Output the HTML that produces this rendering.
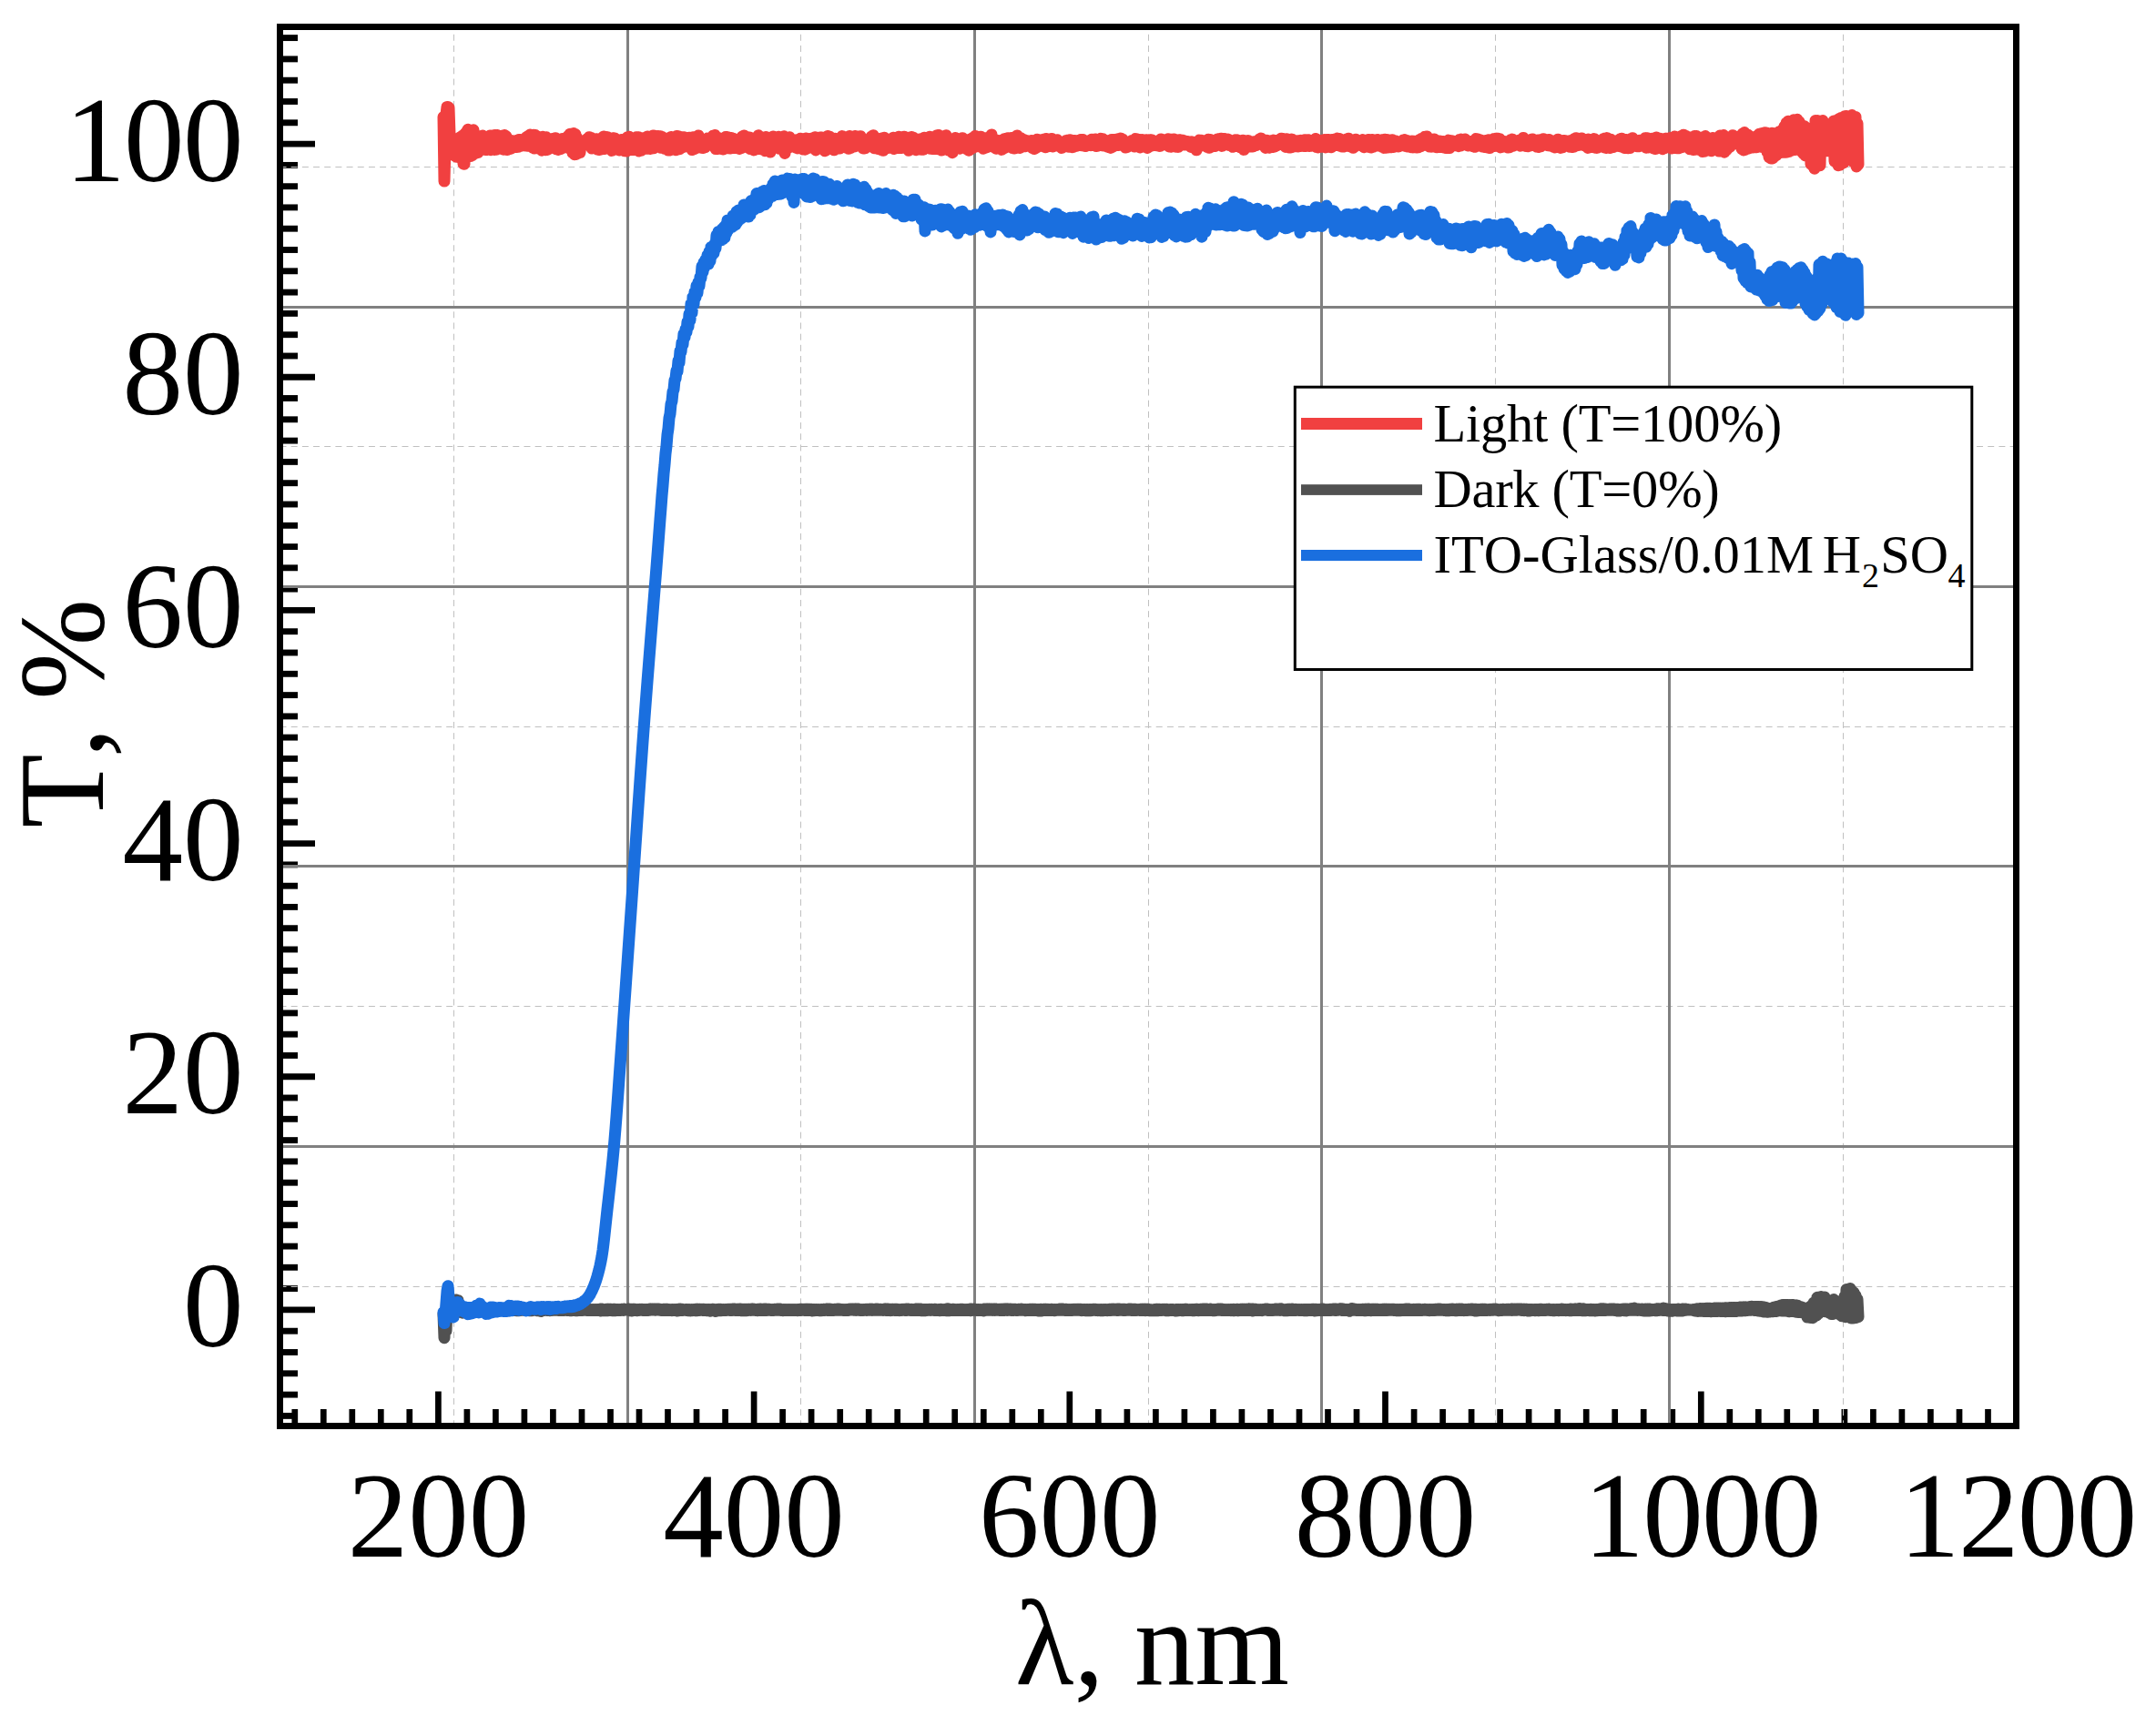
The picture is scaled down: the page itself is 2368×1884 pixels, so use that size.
<!DOCTYPE html>
<html lang="en"><head><meta charset="utf-8"><title>Transmittance spectra</title>
<style>html,body{margin:0;padding:0;background:#fff}body{width:2368px;height:1884px;overflow:hidden}svg{display:block}text{font-family:"Liberation Serif","Times New Roman",serif;fill:#000;font-kerning:none}</style></head><body>
<svg width="2368" height="1884" viewBox="0 0 2368 1884">
<rect width="2368" height="1884" fill="#fff"/>
<g stroke="#000" stroke-width="6.7" fill="none">
<path stroke-width="6.9" d="M310.0 41.6H327.0"/>
<path stroke-width="6.9" d="M310.0 64.9H327.0"/>
<path stroke-width="6.9" d="M310.0 88.2H327.0"/>
<path stroke-width="6.9" d="M310.0 111.5H327.0"/>
<path stroke-width="6.9" d="M310.0 134.8H327.0"/>
<path stroke-width="6.9" d="M310.0 158.1H346.0"/>
<path stroke-width="6.9" d="M310.0 181.4H327.0"/>
<path stroke-width="6.9" d="M310.0 204.7H327.0"/>
<path stroke-width="6.9" d="M310.0 227.9H327.0"/>
<path stroke-width="6.9" d="M310.0 251.2H327.0"/>
<path stroke-width="6.9" d="M310.0 274.5H327.0"/>
<path stroke-width="6.9" d="M310.0 297.8H327.0"/>
<path stroke-width="6.9" d="M310.0 321.1H327.0"/>
<path stroke-width="6.9" d="M310.0 344.4H327.0"/>
<path stroke-width="6.9" d="M310.0 367.7H327.0"/>
<path stroke-width="6.9" d="M310.0 391.0H327.0"/>
<path stroke-width="6.9" d="M310.0 414.2H346.0"/>
<path stroke-width="6.9" d="M310.0 437.5H327.0"/>
<path stroke-width="6.9" d="M310.0 460.8H327.0"/>
<path stroke-width="6.9" d="M310.0 484.1H327.0"/>
<path stroke-width="6.9" d="M310.0 507.4H327.0"/>
<path stroke-width="6.9" d="M310.0 530.7H327.0"/>
<path stroke-width="6.9" d="M310.0 554.0H327.0"/>
<path stroke-width="6.9" d="M310.0 577.3H327.0"/>
<path stroke-width="6.9" d="M310.0 600.6H327.0"/>
<path stroke-width="6.9" d="M310.0 623.8H327.0"/>
<path stroke-width="6.9" d="M310.0 647.1H327.0"/>
<path stroke-width="6.9" d="M310.0 670.4H346.0"/>
<path stroke-width="6.9" d="M310.0 693.7H327.0"/>
<path stroke-width="6.9" d="M310.0 717.0H327.0"/>
<path stroke-width="6.9" d="M310.0 740.3H327.0"/>
<path stroke-width="6.9" d="M310.0 763.6H327.0"/>
<path stroke-width="6.9" d="M310.0 786.9H327.0"/>
<path stroke-width="6.9" d="M310.0 810.1H327.0"/>
<path stroke-width="6.9" d="M310.0 833.4H327.0"/>
<path stroke-width="6.9" d="M310.0 856.7H327.0"/>
<path stroke-width="6.9" d="M310.0 880.0H327.0"/>
<path stroke-width="6.9" d="M310.0 903.3H327.0"/>
<path stroke-width="6.9" d="M310.0 926.6H346.0"/>
<path stroke-width="6.9" d="M310.0 949.9H327.0"/>
<path stroke-width="6.9" d="M310.0 973.2H327.0"/>
<path stroke-width="6.9" d="M310.0 996.4H327.0"/>
<path stroke-width="6.9" d="M310.0 1019.7H327.0"/>
<path stroke-width="6.9" d="M310.0 1043.0H327.0"/>
<path stroke-width="6.9" d="M310.0 1066.3H327.0"/>
<path stroke-width="6.9" d="M310.0 1089.6H327.0"/>
<path stroke-width="6.9" d="M310.0 1112.9H327.0"/>
<path stroke-width="6.9" d="M310.0 1136.2H327.0"/>
<path stroke-width="6.9" d="M310.0 1159.5H327.0"/>
<path stroke-width="6.9" d="M310.0 1182.8H346.0"/>
<path stroke-width="6.9" d="M310.0 1206.0H327.0"/>
<path stroke-width="6.9" d="M310.0 1229.3H327.0"/>
<path stroke-width="6.9" d="M310.0 1252.6H327.0"/>
<path stroke-width="6.9" d="M310.0 1275.9H327.0"/>
<path stroke-width="6.9" d="M310.0 1299.2H327.0"/>
<path stroke-width="6.9" d="M310.0 1322.5H327.0"/>
<path stroke-width="6.9" d="M310.0 1345.8H327.0"/>
<path stroke-width="6.9" d="M310.0 1369.1H327.0"/>
<path stroke-width="6.9" d="M310.0 1392.3H327.0"/>
<path stroke-width="6.9" d="M310.0 1415.6H327.0"/>
<path stroke-width="6.9" d="M310.0 1438.9H346.0"/>
<path stroke-width="6.9" d="M310.0 1462.2H327.0"/>
<path stroke-width="6.9" d="M310.0 1485.5H327.0"/>
<path stroke-width="6.9" d="M310.0 1508.8H327.0"/>
<path stroke-width="6.9" d="M310.0 1532.1H327.0"/>
<path stroke-width="6.9" d="M310.0 1555.4H327.0"/>
<path d="M323.8 1564.0V1548.0"/>
<path d="M355.3 1564.0V1548.0"/>
<path d="M386.8 1564.0V1548.0"/>
<path d="M418.3 1564.0V1548.0"/>
<path d="M449.8 1564.0V1548.0"/>
<path d="M481.4 1564.0V1528.5"/>
<path d="M512.9 1564.0V1548.0"/>
<path d="M544.4 1564.0V1548.0"/>
<path d="M575.9 1564.0V1548.0"/>
<path d="M607.4 1564.0V1548.0"/>
<path d="M639.0 1564.0V1548.0"/>
<path d="M670.5 1564.0V1548.0"/>
<path d="M702.0 1564.0V1548.0"/>
<path d="M733.5 1564.0V1548.0"/>
<path d="M765.0 1564.0V1548.0"/>
<path d="M796.6 1564.0V1548.0"/>
<path d="M828.1 1564.0V1528.5"/>
<path d="M859.6 1564.0V1548.0"/>
<path d="M891.1 1564.0V1548.0"/>
<path d="M922.7 1564.0V1548.0"/>
<path d="M954.2 1564.0V1548.0"/>
<path d="M985.7 1564.0V1548.0"/>
<path d="M1017.2 1564.0V1548.0"/>
<path d="M1048.7 1564.0V1548.0"/>
<path d="M1080.3 1564.0V1548.0"/>
<path d="M1111.8 1564.0V1548.0"/>
<path d="M1143.3 1564.0V1548.0"/>
<path d="M1174.8 1564.0V1528.5"/>
<path d="M1206.3 1564.0V1548.0"/>
<path d="M1237.9 1564.0V1548.0"/>
<path d="M1269.4 1564.0V1548.0"/>
<path d="M1300.9 1564.0V1548.0"/>
<path d="M1332.4 1564.0V1548.0"/>
<path d="M1363.9 1564.0V1548.0"/>
<path d="M1395.5 1564.0V1548.0"/>
<path d="M1427.0 1564.0V1548.0"/>
<path d="M1458.5 1564.0V1548.0"/>
<path d="M1490.0 1564.0V1548.0"/>
<path d="M1521.5 1564.0V1528.5"/>
<path d="M1553.1 1564.0V1548.0"/>
<path d="M1584.6 1564.0V1548.0"/>
<path d="M1616.1 1564.0V1548.0"/>
<path d="M1647.6 1564.0V1548.0"/>
<path d="M1679.1 1564.0V1548.0"/>
<path d="M1710.7 1564.0V1548.0"/>
<path d="M1742.2 1564.0V1548.0"/>
<path d="M1773.7 1564.0V1548.0"/>
<path d="M1805.2 1564.0V1548.0"/>
<path d="M1836.8 1564.0V1548.0"/>
<path d="M1868.3 1564.0V1528.5"/>
<path d="M1899.8 1564.0V1548.0"/>
<path d="M1931.3 1564.0V1548.0"/>
<path d="M1962.8 1564.0V1548.0"/>
<path d="M1994.4 1564.0V1548.0"/>
<path d="M2025.9 1564.0V1548.0"/>
<path d="M2057.4 1564.0V1548.0"/>
<path d="M2088.9 1564.0V1548.0"/>
<path d="M2120.4 1564.0V1548.0"/>
<path d="M2152.0 1564.0V1548.0"/>
<path d="M2183.5 1564.0V1548.0"/>
</g>
<g stroke="#c0c0c0" stroke-width="1" stroke-dasharray="7 5.18" fill="none">
<path d="M498.5 1567.3V33.0"/>
<path d="M879.5 1567.3V33.0"/>
<path d="M1261.5 1567.3V33.0"/>
<path d="M1642.5 1567.3V33.0"/>
<path d="M2024.5 1567.3V33.0"/>
<path d="M307.5 183.5H2211.0"/>
<path d="M307.5 490.5H2211.0"/>
<path d="M307.5 798.5H2211.0"/>
<path d="M307.5 1105.5H2211.0"/>
<path d="M307.5 1413.5H2211.0"/>
</g>
<g stroke="#808080" stroke-width="3" fill="none">
<path d="M689.5 33.0V1563.0"/>
<path d="M1070.5 33.0V1563.0"/>
<path d="M1451.5 33.0V1563.0"/>
<path d="M1833.5 33.0V1563.0"/>
<path d="M311.0 337.5H2211.0"/>
<path d="M311.0 644.5H2211.0"/>
<path d="M311.0 951.5H2211.0"/>
<path d="M311.0 1259.5H2211.0"/>
</g>
<g fill="none" stroke-width="13" stroke-linejoin="round" stroke-linecap="round">
<path stroke="#515151" d="M487.0 1444.0L488.0 1469.7L489.0 1441.5L490.0 1462.0L491.0 1435.1L492.0 1446.6L493.0 1435.2L494.0 1440.9L495.0 1435.6L496.0 1442.7L497.0 1437.3L498.0 1442.8L499.0 1437.8L500.0 1435.1L501.0 1428.0L502.0 1437.6L503.0 1428.7L504.0 1438.9L505.0 1433.8L506.0 1441.5L507.0 1436.7L508.0 1442.2L509.0 1436.9L510.0 1441.1L511.0 1436.9L512.0 1440.4L513.0 1436.6L514.0 1440.0L515.0 1436.6L516.0 1439.7L517.0 1436.4L518.0 1440.0L519.0 1436.9L520.0 1439.9L521.0 1436.0L522.0 1440.2L523.0 1437.1L524.0 1440.1L525.0 1437.7L526.0 1439.8L527.0 1438.1L528.0 1439.7L529.0 1438.0L530.0 1439.3L531.0 1437.8L532.0 1439.4L533.0 1438.0L534.0 1439.5L535.0 1438.2L536.0 1439.6L537.0 1438.3L538.0 1439.4L539.0 1438.2L540.0 1439.3L541.0 1438.4L542.0 1439.3L543.0 1438.4L544.0 1439.3L545.0 1438.3L546.0 1439.5L547.0 1438.2L548.0 1439.7L549.0 1438.4L550.0 1439.7L551.0 1438.6L552.0 1439.5L553.0 1438.5L554.0 1439.4L555.0 1438.4L556.0 1439.5L557.0 1438.4L558.0 1439.7L559.0 1438.4L560.0 1439.7L561.0 1438.2L562.0 1439.6L563.0 1438.1L564.0 1439.4L565.0 1438.4L566.0 1439.5L567.0 1438.3L568.0 1439.8L569.0 1438.3L570.0 1439.7L571.0 1438.4L572.0 1439.4L573.0 1438.2L574.0 1439.3L575.0 1438.3L576.0 1439.3L577.0 1438.3L578.0 1439.3L579.0 1438.1L580.0 1439.5L581.0 1438.3L582.0 1439.8L583.0 1438.5L584.0 1439.8L585.0 1438.5L586.0 1439.2L587.0 1438.4L588.0 1439.1L589.0 1438.4L590.0 1439.7L591.0 1438.2L592.0 1439.7L593.0 1438.2L594.0 1440.5L595.0 1438.6L596.0 1439.5L597.0 1438.4L598.0 1439.5L599.0 1438.2L600.0 1439.4L601.0 1438.5L602.0 1439.5L603.0 1438.6L604.0 1439.7L605.0 1438.4L606.0 1439.6L607.0 1437.9L608.0 1439.3L609.0 1437.9L610.0 1439.3L611.0 1438.0L612.0 1439.3L613.0 1438.2L614.0 1439.6L615.0 1437.7L616.0 1439.6L617.0 1438.1L618.0 1439.4L619.0 1437.9L620.0 1439.4L621.0 1438.1L622.0 1439.4L623.0 1438.4L624.0 1439.5L625.0 1438.6L626.0 1439.7L627.0 1438.7L628.0 1439.8L629.0 1438.5L630.0 1439.6L631.0 1438.2L632.0 1439.7L633.0 1438.1L634.0 1439.7L635.0 1438.1L636.0 1439.6L637.0 1438.1L638.0 1439.5L639.0 1438.1L640.0 1439.4L641.0 1438.1L642.0 1439.3L643.0 1438.1L644.0 1439.4L645.0 1438.2L646.0 1439.5L647.0 1438.4L648.0 1439.5L649.0 1438.4L650.0 1439.4L651.0 1438.5L652.0 1439.5L653.0 1438.5L654.0 1439.6L655.0 1438.5L656.0 1439.5L657.0 1438.4L658.0 1439.4L659.0 1438.1L660.0 1440.0L661.0 1438.1L662.0 1439.7L663.0 1438.5L664.0 1439.8L665.0 1438.7L666.0 1439.8L667.0 1438.2L668.0 1439.7L669.0 1438.2L670.0 1439.6L671.0 1438.3L672.0 1439.7L673.0 1438.5L674.0 1439.8L675.0 1438.2L676.0 1439.8L677.0 1438.4L678.0 1439.6L679.0 1438.5L680.0 1439.5L681.0 1438.4L682.0 1439.4L683.0 1438.2L684.0 1439.4L685.0 1438.1L686.0 1439.2L687.0 1438.2L688.0 1439.1L689.0 1438.2L690.0 1439.2L691.0 1438.1L692.0 1439.8L693.0 1438.2L694.0 1439.9L695.0 1438.2L696.0 1439.6L697.0 1438.2L698.0 1439.6L699.0 1438.4L700.0 1439.7L701.0 1438.5L702.0 1439.4L703.0 1438.5L704.0 1439.3L705.0 1438.3L706.0 1439.4L707.0 1438.4L708.0 1439.4L709.0 1438.6L710.0 1439.6L711.0 1438.6L712.0 1439.5L713.0 1438.2L714.0 1439.2L715.0 1438.1L716.0 1439.1L717.0 1437.9L718.0 1439.1L719.0 1437.9L720.0 1439.2L721.0 1438.1L722.0 1439.1L723.0 1437.9L724.0 1439.2L725.0 1438.5L726.0 1439.4L727.0 1438.4L728.0 1439.5L729.0 1438.3L730.0 1439.5L731.0 1438.2L732.0 1439.5L733.0 1438.3L734.0 1439.6L735.0 1438.5L736.0 1439.6L737.0 1438.7L738.0 1439.7L739.0 1438.5L740.0 1439.6L741.0 1438.5L742.0 1439.6L743.0 1438.5L744.0 1440.1L745.0 1438.2L746.0 1439.7L747.0 1438.1L748.0 1439.6L749.0 1438.3L750.0 1439.4L751.0 1438.4L752.0 1439.3L753.0 1438.4L754.0 1439.6L755.0 1438.4L756.0 1439.7L757.0 1438.6L758.0 1439.9L759.0 1438.6L760.0 1439.8L761.0 1438.6L762.0 1439.5L763.0 1438.4L764.0 1439.7L765.0 1438.2L766.0 1439.7L767.0 1438.2L768.0 1439.5L769.0 1438.3L770.0 1439.3L771.0 1438.3L772.0 1439.5L773.0 1438.3L774.0 1439.5L775.0 1438.5L776.0 1439.4L777.0 1438.6L778.0 1439.7L779.0 1438.6L780.0 1440.2L781.0 1438.4L782.0 1439.6L783.0 1438.3L784.0 1439.4L785.0 1438.6L786.0 1440.5L787.0 1438.5L788.0 1439.8L789.0 1438.3L790.0 1439.7L791.0 1438.3L792.0 1439.7L793.0 1438.5L794.0 1439.6L795.0 1438.4L796.0 1439.5L797.0 1438.4L798.0 1439.2L799.0 1438.4L800.0 1439.3L801.0 1438.2L802.0 1439.5L803.0 1438.2L804.0 1439.5L805.0 1438.1L806.0 1439.2L807.0 1438.1L808.0 1439.5L809.0 1438.2L810.0 1439.6L811.0 1438.3L812.0 1439.6L813.0 1438.1L814.0 1439.7L815.0 1438.2L816.0 1439.7L817.0 1438.3L818.0 1439.7L819.0 1438.3L820.0 1439.7L821.0 1438.3L822.0 1439.4L823.0 1438.2L824.0 1439.4L825.0 1438.1L826.0 1439.2L827.0 1438.0L828.0 1439.3L829.0 1438.3L830.0 1439.5L831.0 1438.6L832.0 1439.7L833.0 1438.2L834.0 1439.5L835.0 1438.1L836.0 1439.4L837.0 1438.2L838.0 1439.5L839.0 1438.1L840.0 1439.6L841.0 1438.1L842.0 1439.5L843.0 1438.2L844.0 1439.3L845.0 1438.2L846.0 1439.4L847.0 1438.4L848.0 1439.5L849.0 1438.4L850.0 1439.4L851.0 1438.2L852.0 1439.3L853.0 1438.1L854.0 1439.2L855.0 1438.1L856.0 1439.2L857.0 1438.1L858.0 1439.5L859.0 1438.6L860.0 1439.7L861.0 1438.7L862.0 1439.6L863.0 1438.6L864.0 1439.5L865.0 1438.6L866.0 1439.5L867.0 1438.5L868.0 1439.4L869.0 1438.4L870.0 1439.5L871.0 1438.5L872.0 1439.6L873.0 1438.6L874.0 1439.6L875.0 1438.7L876.0 1439.7L877.0 1438.5L878.0 1439.6L879.0 1438.3L880.0 1439.4L881.0 1438.3L882.0 1439.3L883.0 1438.3L884.0 1439.6L885.0 1438.3L886.0 1439.6L887.0 1438.2L888.0 1439.5L889.0 1438.3L890.0 1439.4L891.0 1438.3L892.0 1439.9L893.0 1438.5L894.0 1439.8L895.0 1438.5L896.0 1439.4L897.0 1438.5L898.0 1439.5L899.0 1438.6L900.0 1439.8L901.0 1438.6L902.0 1439.8L903.0 1438.5L904.0 1439.5L905.0 1438.3L906.0 1439.4L907.0 1438.2L908.0 1439.4L909.0 1438.0L910.0 1439.5L911.0 1438.1L912.0 1439.5L913.0 1438.3L914.0 1439.5L915.0 1438.4L916.0 1439.4L917.0 1438.3L918.0 1439.3L919.0 1438.1L920.0 1439.2L921.0 1438.0L922.0 1439.2L923.0 1438.2L924.0 1439.3L925.0 1438.4L926.0 1439.4L927.0 1438.4L928.0 1439.4L929.0 1438.5L930.0 1439.5L931.0 1438.4L932.0 1439.2L933.0 1438.3L934.0 1439.1L935.0 1437.9L936.0 1439.1L937.0 1437.9L938.0 1439.2L939.0 1438.1L940.0 1439.4L941.0 1437.9L942.0 1439.2L943.0 1438.1L944.0 1439.4L945.0 1438.4L946.0 1439.5L947.0 1438.4L948.0 1439.6L949.0 1438.4L950.0 1439.3L951.0 1438.3L952.0 1439.4L953.0 1438.3L954.0 1439.3L955.0 1438.1L956.0 1439.1L957.0 1438.3L958.0 1439.2L959.0 1438.4L960.0 1439.2L961.0 1438.2L962.0 1439.2L963.0 1438.1L964.0 1439.3L965.0 1438.3L966.0 1439.2L967.0 1438.3L968.0 1439.3L969.0 1438.4L970.0 1439.4L971.0 1438.1L972.0 1439.3L973.0 1438.0L974.0 1439.6L975.0 1438.0L976.0 1439.6L977.0 1438.2L978.0 1439.7L979.0 1438.3L980.0 1439.4L981.0 1438.2L982.0 1439.4L983.0 1438.2L984.0 1439.6L985.0 1438.2L986.0 1439.6L987.0 1438.5L988.0 1439.4L989.0 1438.6L990.0 1439.3L991.0 1438.5L992.0 1439.3L993.0 1438.3L994.0 1439.4L995.0 1438.1L996.0 1439.4L997.0 1438.1L998.0 1439.3L999.0 1438.5L1000.0 1439.3L1001.0 1438.5L1002.0 1439.3L1003.0 1438.4L1004.0 1439.5L1005.0 1438.3L1006.0 1439.4L1007.0 1438.0L1008.0 1439.6L1009.0 1438.0L1010.0 1439.5L1011.0 1438.0L1012.0 1439.7L1013.0 1438.5L1014.0 1439.7L1015.0 1438.5L1016.0 1439.7L1017.0 1438.4L1018.0 1439.6L1019.0 1438.4L1020.0 1439.3L1021.0 1438.4L1022.0 1439.2L1023.0 1438.4L1024.0 1439.3L1025.0 1438.4L1026.0 1439.5L1027.0 1438.2L1028.0 1439.5L1029.0 1438.5L1030.0 1439.6L1031.0 1438.5L1032.0 1439.7L1033.0 1438.3L1034.0 1439.5L1035.0 1438.5L1036.0 1439.4L1037.0 1438.4L1038.0 1439.6L1039.0 1438.3L1040.0 1439.8L1041.0 1437.7L1042.0 1439.8L1043.0 1438.3L1044.0 1439.6L1045.0 1438.5L1046.0 1439.6L1047.0 1438.2L1048.0 1439.4L1049.0 1438.4L1050.0 1439.4L1051.0 1438.6L1052.0 1439.3L1053.0 1438.6L1054.0 1439.4L1055.0 1438.3L1056.0 1439.5L1057.0 1438.3L1058.0 1439.6L1059.0 1438.6L1060.0 1439.5L1061.0 1438.6L1062.0 1439.3L1063.0 1438.6L1064.0 1439.4L1065.0 1438.1L1066.0 1439.7L1067.0 1438.1L1068.0 1439.4L1069.0 1438.1L1070.0 1439.2L1071.0 1438.2L1072.0 1439.4L1073.0 1438.4L1074.0 1439.6L1075.0 1438.4L1076.0 1439.5L1077.0 1438.6L1078.0 1439.5L1079.0 1438.5L1080.0 1439.9L1081.0 1438.1L1082.0 1439.5L1083.0 1438.0L1084.0 1439.2L1085.0 1437.9L1086.0 1439.2L1087.0 1438.0L1088.0 1439.3L1089.0 1438.1L1090.0 1439.4L1091.0 1438.2L1092.0 1439.4L1093.0 1438.0L1094.0 1439.2L1095.0 1438.2L1096.0 1439.3L1097.0 1438.3L1098.0 1439.5L1099.0 1438.2L1100.0 1439.6L1101.0 1438.2L1102.0 1439.6L1103.0 1438.1L1104.0 1439.3L1105.0 1438.0L1106.0 1439.4L1107.0 1438.0L1108.0 1439.3L1109.0 1438.1L1110.0 1439.4L1111.0 1438.2L1112.0 1439.6L1113.0 1438.3L1114.0 1439.2L1115.0 1438.3L1116.0 1439.4L1117.0 1438.4L1118.0 1439.4L1119.0 1438.2L1120.0 1439.3L1121.0 1438.1L1122.0 1439.3L1123.0 1438.2L1124.0 1439.3L1125.0 1438.5L1126.0 1439.7L1127.0 1438.6L1128.0 1439.5L1129.0 1438.4L1130.0 1439.4L1131.0 1438.3L1132.0 1439.6L1133.0 1438.3L1134.0 1439.5L1135.0 1438.3L1136.0 1439.4L1137.0 1438.2L1138.0 1439.6L1139.0 1438.4L1140.0 1439.9L1141.0 1438.5L1142.0 1439.9L1143.0 1438.3L1144.0 1439.9L1145.0 1438.4L1146.0 1439.6L1147.0 1438.2L1148.0 1439.5L1149.0 1438.3L1150.0 1439.4L1151.0 1438.5L1152.0 1439.3L1153.0 1438.4L1154.0 1439.4L1155.0 1438.3L1156.0 1439.6L1157.0 1438.5L1158.0 1439.7L1159.0 1438.5L1160.0 1439.5L1161.0 1438.4L1162.0 1439.3L1163.0 1438.1L1164.0 1439.2L1165.0 1438.1L1166.0 1439.3L1167.0 1438.0L1168.0 1439.3L1169.0 1438.2L1170.0 1439.5L1171.0 1438.3L1172.0 1439.6L1173.0 1438.5L1174.0 1439.5L1175.0 1438.4L1176.0 1439.5L1177.0 1438.4L1178.0 1439.2L1179.0 1438.4L1180.0 1439.2L1181.0 1438.2L1182.0 1439.2L1183.0 1438.3L1184.0 1439.3L1185.0 1438.2L1186.0 1439.4L1187.0 1438.2L1188.0 1439.7L1189.0 1438.4L1190.0 1439.4L1191.0 1438.5L1192.0 1439.4L1193.0 1438.6L1194.0 1439.7L1195.0 1438.6L1196.0 1439.8L1197.0 1438.6L1198.0 1439.8L1199.0 1438.5L1200.0 1439.4L1201.0 1438.2L1202.0 1439.3L1203.0 1438.2L1204.0 1439.6L1205.0 1438.6L1206.0 1439.5L1207.0 1438.7L1208.0 1439.5L1209.0 1438.6L1210.0 1439.7L1211.0 1438.7L1212.0 1439.7L1213.0 1438.6L1214.0 1439.4L1215.0 1438.6L1216.0 1439.4L1217.0 1438.5L1218.0 1439.6L1219.0 1438.3L1220.0 1439.5L1221.0 1438.3L1222.0 1439.2L1223.0 1438.3L1224.0 1439.1L1225.0 1438.2L1226.0 1439.4L1227.0 1438.1L1228.0 1439.5L1229.0 1438.1L1230.0 1439.3L1231.0 1438.2L1232.0 1439.3L1233.0 1438.2L1234.0 1439.6L1235.0 1438.3L1236.0 1439.6L1237.0 1438.4L1238.0 1439.3L1239.0 1438.3L1240.0 1439.2L1241.0 1438.1L1242.0 1439.4L1243.0 1438.2L1244.0 1439.6L1245.0 1438.2L1246.0 1439.4L1247.0 1438.2L1248.0 1439.4L1249.0 1438.4L1250.0 1439.3L1251.0 1438.4L1252.0 1439.6L1253.0 1438.3L1254.0 1439.6L1255.0 1438.3L1256.0 1439.6L1257.0 1438.2L1258.0 1439.7L1259.0 1438.2L1260.0 1439.6L1261.0 1438.3L1262.0 1439.7L1263.0 1438.4L1264.0 1439.8L1265.0 1438.7L1266.0 1439.8L1267.0 1438.7L1268.0 1439.8L1269.0 1438.4L1270.0 1439.8L1271.0 1438.2L1272.0 1439.8L1273.0 1438.3L1274.0 1439.6L1275.0 1438.4L1276.0 1439.3L1277.0 1438.5L1278.0 1439.3L1279.0 1438.3L1280.0 1439.7L1281.0 1438.3L1282.0 1439.8L1283.0 1438.7L1284.0 1439.5L1285.0 1438.7L1286.0 1439.4L1287.0 1438.7L1288.0 1439.4L1289.0 1438.7L1290.0 1439.9L1291.0 1438.7L1292.0 1439.9L1293.0 1438.5L1294.0 1439.8L1295.0 1438.4L1296.0 1439.6L1297.0 1438.6L1298.0 1439.7L1299.0 1438.4L1300.0 1439.7L1301.0 1438.3L1302.0 1439.6L1303.0 1438.3L1304.0 1439.4L1305.0 1438.4L1306.0 1439.5L1307.0 1438.5L1308.0 1439.6L1309.0 1438.5L1310.0 1439.8L1311.0 1438.4L1312.0 1439.7L1313.0 1438.3L1314.0 1439.5L1315.0 1438.3L1316.0 1439.7L1317.0 1438.4L1318.0 1439.6L1319.0 1438.2L1320.0 1439.4L1321.0 1438.1L1322.0 1439.5L1323.0 1438.1L1324.0 1439.5L1325.0 1438.1L1326.0 1439.4L1327.0 1438.4L1328.0 1439.4L1329.0 1438.1L1330.0 1439.6L1331.0 1438.5L1332.0 1439.7L1333.0 1438.6L1334.0 1439.8L1335.0 1438.6L1336.0 1439.5L1337.0 1438.3L1338.0 1439.2L1339.0 1438.1L1340.0 1439.3L1341.0 1438.1L1342.0 1439.5L1343.0 1438.3L1344.0 1439.6L1345.0 1438.5L1346.0 1439.5L1347.0 1438.5L1348.0 1439.5L1349.0 1438.6L1350.0 1439.6L1351.0 1438.7L1352.0 1439.5L1353.0 1438.7L1354.0 1439.5L1355.0 1438.6L1356.0 1439.4L1357.0 1438.5L1358.0 1439.5L1359.0 1438.3L1360.0 1439.8L1361.0 1438.4L1362.0 1439.6L1363.0 1438.3L1364.0 1439.5L1365.0 1438.2L1366.0 1439.6L1367.0 1438.3L1368.0 1439.5L1369.0 1438.3L1370.0 1439.5L1371.0 1438.0L1372.0 1439.6L1373.0 1437.9L1374.0 1439.6L1375.0 1438.1L1376.0 1440.0L1377.0 1438.2L1378.0 1439.6L1379.0 1438.3L1380.0 1439.6L1381.0 1438.4L1382.0 1439.6L1383.0 1438.7L1384.0 1439.6L1385.0 1438.7L1386.0 1439.5L1387.0 1438.6L1388.0 1439.2L1389.0 1438.2L1390.0 1439.1L1391.0 1438.0L1392.0 1439.4L1393.0 1438.2L1394.0 1439.5L1395.0 1438.4L1396.0 1439.4L1397.0 1438.5L1398.0 1439.6L1399.0 1438.4L1400.0 1439.3L1401.0 1438.0L1402.0 1439.2L1403.0 1438.3L1404.0 1439.1L1405.0 1437.9L1406.0 1439.4L1407.0 1437.8L1408.0 1439.3L1409.0 1438.6L1410.0 1439.7L1411.0 1438.7L1412.0 1439.7L1413.0 1438.5L1414.0 1439.7L1415.0 1438.2L1416.0 1439.5L1417.0 1438.2L1418.0 1439.4L1419.0 1438.1L1420.0 1439.4L1421.0 1438.5L1422.0 1439.3L1423.0 1438.5L1424.0 1439.3L1425.0 1438.6L1426.0 1439.3L1427.0 1438.4L1428.0 1439.4L1429.0 1438.5L1430.0 1439.5L1431.0 1438.7L1432.0 1439.7L1433.0 1438.5L1434.0 1439.7L1435.0 1438.4L1436.0 1439.7L1437.0 1438.4L1438.0 1439.4L1439.0 1438.4L1440.0 1439.2L1441.0 1438.3L1442.0 1439.4L1443.0 1438.2L1444.0 1439.9L1445.0 1438.3L1446.0 1439.8L1447.0 1438.4L1448.0 1439.6L1449.0 1438.4L1450.0 1439.6L1451.0 1438.2L1452.0 1439.5L1453.0 1438.0L1454.0 1439.5L1455.0 1438.4L1456.0 1439.5L1457.0 1438.6L1458.0 1439.5L1459.0 1438.6L1460.0 1439.5L1461.0 1438.5L1462.0 1439.2L1463.0 1438.3L1464.0 1439.2L1465.0 1438.0L1466.0 1439.4L1467.0 1438.1L1468.0 1439.4L1469.0 1438.3L1470.0 1439.2L1471.0 1438.0L1472.0 1439.1L1473.0 1437.7L1474.0 1439.4L1475.0 1438.1L1476.0 1439.4L1477.0 1438.3L1478.0 1439.4L1479.0 1438.4L1480.0 1439.4L1481.0 1438.6L1482.0 1440.3L1483.0 1438.5L1484.0 1439.5L1485.0 1437.4L1486.0 1439.2L1487.0 1438.0L1488.0 1439.3L1489.0 1438.2L1490.0 1439.5L1491.0 1438.5L1492.0 1439.5L1493.0 1438.5L1494.0 1439.3L1495.0 1438.4L1496.0 1439.6L1497.0 1438.3L1498.0 1439.7L1499.0 1438.3L1500.0 1439.7L1501.0 1438.2L1502.0 1439.6L1503.0 1438.1L1504.0 1439.6L1505.0 1438.4L1506.0 1439.7L1507.0 1438.2L1508.0 1439.6L1509.0 1438.2L1510.0 1439.6L1511.0 1438.3L1512.0 1439.5L1513.0 1438.3L1514.0 1439.4L1515.0 1438.4L1516.0 1439.6L1517.0 1438.4L1518.0 1439.5L1519.0 1438.2L1520.0 1439.5L1521.0 1438.2L1522.0 1439.5L1523.0 1438.2L1524.0 1439.4L1525.0 1438.3L1526.0 1439.3L1527.0 1438.4L1528.0 1439.1L1529.0 1438.2L1530.0 1439.4L1531.0 1438.3L1532.0 1439.6L1533.0 1438.4L1534.0 1439.7L1535.0 1438.5L1536.0 1439.8L1537.0 1438.6L1538.0 1439.8L1539.0 1438.5L1540.0 1439.6L1541.0 1438.4L1542.0 1439.6L1543.0 1438.2L1544.0 1439.6L1545.0 1438.0L1546.0 1439.5L1547.0 1438.1L1548.0 1439.4L1549.0 1438.4L1550.0 1439.5L1551.0 1438.5L1552.0 1439.4L1553.0 1438.5L1554.0 1439.3L1555.0 1438.5L1556.0 1439.4L1557.0 1438.3L1558.0 1439.6L1559.0 1438.3L1560.0 1439.6L1561.0 1438.6L1562.0 1439.4L1563.0 1438.4L1564.0 1439.3L1565.0 1438.3L1566.0 1439.2L1567.0 1438.6L1568.0 1439.4L1569.0 1438.7L1570.0 1439.7L1571.0 1438.5L1572.0 1439.6L1573.0 1438.5L1574.0 1439.6L1575.0 1438.5L1576.0 1439.6L1577.0 1438.2L1578.0 1439.3L1579.0 1438.1L1580.0 1439.2L1581.0 1438.1L1582.0 1439.2L1583.0 1438.2L1584.0 1439.3L1585.0 1438.4L1586.0 1439.6L1587.0 1438.5L1588.0 1439.7L1589.0 1438.6L1590.0 1439.7L1591.0 1438.4L1592.0 1439.7L1593.0 1438.2L1594.0 1439.5L1595.0 1438.1L1596.0 1439.4L1597.0 1438.2L1598.0 1439.7L1599.0 1438.3L1600.0 1439.7L1601.0 1438.2L1602.0 1439.5L1603.0 1438.0L1604.0 1439.4L1605.0 1438.1L1606.0 1439.4L1607.0 1438.5L1608.0 1439.4L1609.0 1438.6L1610.0 1439.6L1611.0 1438.4L1612.0 1439.5L1613.0 1438.3L1614.0 1439.3L1615.0 1438.2L1616.0 1439.2L1617.0 1438.1L1618.0 1439.5L1619.0 1438.2L1620.0 1439.9L1621.0 1438.3L1622.0 1439.9L1623.0 1438.4L1624.0 1439.7L1625.0 1438.4L1626.0 1439.6L1627.0 1438.3L1628.0 1439.5L1629.0 1438.3L1630.0 1439.6L1631.0 1438.3L1632.0 1439.6L1633.0 1438.5L1634.0 1439.3L1635.0 1438.6L1636.0 1439.3L1637.0 1438.4L1638.0 1439.2L1639.0 1438.2L1640.0 1439.1L1641.0 1438.3L1642.0 1439.1L1643.0 1438.1L1644.0 1439.3L1645.0 1438.5L1646.0 1439.8L1647.0 1438.6L1648.0 1439.6L1649.0 1438.4L1650.0 1439.5L1651.0 1438.3L1652.0 1439.3L1653.0 1438.4L1654.0 1439.3L1655.0 1438.3L1656.0 1439.3L1657.0 1438.2L1658.0 1439.2L1659.0 1438.2L1660.0 1439.4L1661.0 1438.0L1662.0 1439.3L1663.0 1438.1L1664.0 1439.2L1665.0 1438.3L1666.0 1439.2L1667.0 1438.1L1668.0 1439.1L1669.0 1438.0L1670.0 1439.2L1671.0 1438.1L1672.0 1439.6L1673.0 1438.2L1674.0 1439.7L1675.0 1438.2L1676.0 1439.5L1677.0 1438.3L1678.0 1440.0L1679.0 1438.5L1680.0 1439.9L1681.0 1438.5L1682.0 1439.6L1683.0 1438.5L1684.0 1439.4L1685.0 1438.5L1686.0 1439.7L1687.0 1438.4L1688.0 1439.6L1689.0 1438.4L1690.0 1439.8L1691.0 1438.3L1692.0 1439.4L1693.0 1438.3L1694.0 1439.5L1695.0 1438.5L1696.0 1439.6L1697.0 1438.4L1698.0 1439.4L1699.0 1438.3L1700.0 1439.3L1701.0 1438.1L1702.0 1439.4L1703.0 1438.4L1704.0 1439.6L1705.0 1438.5L1706.0 1439.8L1707.0 1438.6L1708.0 1439.5L1709.0 1438.7L1710.0 1439.4L1711.0 1438.6L1712.0 1439.7L1713.0 1438.6L1714.0 1439.6L1715.0 1438.1L1716.0 1439.5L1717.0 1438.3L1718.0 1439.5L1719.0 1438.5L1720.0 1439.4L1721.0 1438.6L1722.0 1439.6L1723.0 1438.4L1724.0 1439.7L1725.0 1438.1L1726.0 1439.7L1727.0 1438.2L1728.0 1439.5L1729.0 1438.2L1730.0 1439.4L1731.0 1438.0L1732.0 1439.6L1733.0 1438.0L1734.0 1439.5L1735.0 1437.4L1736.0 1439.5L1737.0 1437.9L1738.0 1439.7L1739.0 1437.8L1740.0 1439.7L1741.0 1438.4L1742.0 1439.7L1743.0 1438.4L1744.0 1439.6L1745.0 1438.4L1746.0 1439.7L1747.0 1438.3L1748.0 1439.7L1749.0 1438.4L1750.0 1439.7L1751.0 1438.4L1752.0 1440.0L1753.0 1438.6L1754.0 1439.8L1755.0 1438.5L1756.0 1439.6L1757.0 1438.0L1758.0 1439.4L1759.0 1437.8L1760.0 1439.4L1761.0 1437.8L1762.0 1439.4L1763.0 1437.9L1764.0 1439.4L1765.0 1438.2L1766.0 1439.2L1767.0 1438.3L1768.0 1439.2L1769.0 1438.1L1770.0 1439.2L1771.0 1437.9L1772.0 1439.2L1773.0 1438.1L1774.0 1439.6L1775.0 1438.3L1776.0 1439.9L1777.0 1438.3L1778.0 1440.1L1779.0 1438.4L1780.0 1439.9L1781.0 1438.3L1782.0 1439.5L1783.0 1438.1L1784.0 1439.7L1785.0 1438.0L1786.0 1439.9L1787.0 1438.0L1788.0 1439.5L1789.0 1438.2L1790.0 1439.2L1791.0 1437.8L1792.0 1439.3L1793.0 1437.7L1794.0 1439.2L1795.0 1437.1L1796.0 1439.2L1797.0 1438.2L1798.0 1439.4L1799.0 1438.0L1800.0 1439.3L1801.0 1438.5L1802.0 1439.4L1803.0 1438.1L1804.0 1439.7L1805.0 1438.2L1806.0 1440.1L1807.0 1438.1L1808.0 1440.0L1809.0 1438.1L1810.0 1439.9L1811.0 1438.1L1812.0 1440.0L1813.0 1438.2L1814.0 1439.8L1815.0 1438.5L1816.0 1439.6L1817.0 1438.5L1818.0 1439.7L1819.0 1438.0L1820.0 1439.7L1821.0 1437.8L1822.0 1439.6L1823.0 1438.0L1824.0 1439.2L1825.0 1437.9L1826.0 1439.4L1827.0 1437.1L1828.0 1439.5L1829.0 1437.4L1830.0 1439.6L1831.0 1438.2L1832.0 1440.1L1833.0 1438.5L1834.0 1440.2L1835.0 1438.4L1836.0 1440.2L1837.0 1438.4L1838.0 1439.9L1839.0 1438.5L1840.0 1439.8L1841.0 1438.4L1842.0 1440.0L1843.0 1438.1L1844.0 1440.0L1845.0 1438.4L1846.0 1440.0L1847.0 1438.2L1848.0 1439.9L1849.0 1438.0L1850.0 1439.5L1851.0 1438.1L1852.0 1439.1L1853.0 1438.4L1854.0 1439.0L1855.0 1438.7L1856.0 1438.9L1857.0 1439.0L1858.0 1438.7L1859.0 1439.3L1860.0 1438.5L1861.0 1439.9L1862.0 1438.2L1863.0 1440.2L1864.0 1437.7L1865.0 1440.5L1866.0 1437.7L1867.0 1440.3L1868.0 1437.6L1869.0 1440.3L1870.0 1437.5L1871.0 1440.4L1872.0 1437.4L1873.0 1440.6L1874.0 1437.3L1875.0 1440.6L1876.0 1437.2L1877.0 1440.6L1878.0 1437.3L1879.0 1440.7L1880.0 1437.4L1881.0 1440.5L1882.0 1437.2L1883.0 1440.5L1884.0 1437.0L1885.0 1440.4L1886.0 1437.3L1887.0 1440.4L1888.0 1436.9L1889.0 1440.4L1890.0 1437.1L1891.0 1440.5L1892.0 1436.9L1893.0 1440.6L1894.0 1437.0L1895.0 1440.7L1896.0 1436.7L1897.0 1440.5L1898.0 1436.9L1899.0 1440.6L1900.0 1436.6L1901.0 1440.4L1902.0 1436.7L1903.0 1440.6L1904.0 1436.4L1905.0 1440.5L1906.0 1436.5L1907.0 1440.4L1908.0 1436.5L1909.0 1439.9L1910.0 1436.3L1911.0 1440.1L1912.0 1436.1L1913.0 1439.9L1914.0 1435.9L1915.0 1439.8L1916.0 1435.9L1917.0 1439.7L1918.0 1436.0L1919.0 1439.4L1920.0 1435.9L1921.0 1439.2L1922.0 1435.4L1923.0 1439.3L1924.0 1435.3L1925.0 1439.1L1926.0 1435.4L1927.0 1439.4L1928.0 1435.4L1929.0 1439.6L1930.0 1435.4L1931.0 1439.9L1932.0 1435.5L1933.0 1440.3L1934.0 1435.5L1935.0 1440.6L1936.0 1435.8L1937.0 1441.0L1938.0 1436.1L1939.0 1440.9L1940.0 1436.5L1941.0 1441.3L1942.0 1437.2L1943.0 1441.1L1944.0 1437.4L1945.0 1440.8L1946.0 1437.2L1947.0 1440.7L1948.0 1436.3L1949.0 1440.4L1950.0 1436.0L1951.0 1440.4L1952.0 1435.2L1953.0 1439.8L1954.0 1434.8L1955.0 1439.7L1956.0 1434.0L1957.0 1440.0L1958.0 1433.4L1959.0 1439.9L1960.0 1433.4L1961.0 1440.1L1962.0 1433.5L1963.0 1440.3L1964.0 1433.6L1965.0 1440.7L1966.0 1433.6L1967.0 1440.5L1968.0 1433.5L1969.0 1440.3L1970.0 1433.6L1971.0 1440.7L1972.0 1434.0L1973.0 1441.2L1974.0 1434.1L1975.0 1441.5L1976.0 1435.1L1977.0 1441.6L1978.0 1435.7L1979.0 1441.8L1980.0 1436.4L1981.0 1442.1L1982.0 1437.6L1983.0 1442.6L1984.0 1438.1L1985.0 1447.1L1986.0 1438.2L1987.0 1447.3L1988.0 1435.5L1989.0 1447.5L1990.0 1433.9L1991.0 1447.7L1992.0 1431.1L1993.0 1446.1L1994.0 1429.5L1995.0 1445.1L1996.0 1425.3L1997.0 1443.5L1998.0 1425.2L1999.0 1441.0L2000.0 1424.6L2001.0 1440.5L2002.0 1425.1L2003.0 1440.5L2004.0 1424.9L2005.0 1440.8L2006.0 1427.4L2007.0 1441.2L2008.0 1429.0L2009.0 1442.0L2010.0 1429.3L2011.0 1443.4L2012.0 1428.6L2013.0 1443.6L2014.0 1427.5L2015.0 1441.6L2016.0 1429.3L2017.0 1441.3L2018.0 1430.3L2019.0 1441.2L2020.0 1431.8L2021.0 1444.3L2022.0 1432.8L2023.0 1445.8L2024.0 1431.4L2025.0 1446.1L2026.0 1424.1L2027.0 1446.7L2028.0 1416.6L2029.0 1446.2L2030.0 1417.0L2031.0 1446.4L2032.0 1415.4L2033.0 1447.9L2034.0 1418.0L2035.0 1448.1L2036.0 1419.8L2037.0 1446.3L2038.0 1423.1L2039.0 1447.4L2040.0 1427.2L2041.0 1446.7"/>
<path stroke="#F14040" d="M487.0 128.6L488.0 199.1L489.0 158.1L490.0 126.1L491.0 117.4L492.0 117.4L493.0 118.4L494.0 147.8L495.0 168.3L496.0 154.2L497.0 169.6L498.0 154.2L499.0 170.9L500.0 154.2L501.0 172.2L502.0 153.0L503.0 170.9L504.0 151.7L505.0 172.2L506.0 150.4L507.0 174.7L508.0 149.1L509.0 179.9L510.0 180.2L511.0 146.6L512.0 172.2L513.0 144.0L514.0 142.3L515.0 170.9L516.0 144.4L517.0 171.5L518.0 144.4L519.0 170.4L520.0 142.8L521.0 168.8L522.0 148.1L523.0 168.2L524.0 150.8L525.0 167.6L526.0 150.3L527.0 164.8L528.0 150.1L529.0 163.9L530.0 149.0L531.0 164.2L532.0 151.3L533.0 164.4L534.0 151.3L535.0 164.4L536.0 150.8L537.0 164.2L538.0 149.1L539.0 164.7L540.0 149.3L541.0 164.3L542.0 148.7L543.0 164.4L544.0 148.4L545.0 164.3L546.0 148.5L547.0 163.6L548.0 149.3L549.0 162.9L550.0 149.4L551.0 162.7L552.0 149.0L553.0 164.2L554.0 148.4L555.0 163.3L556.0 149.8L557.0 164.5L558.0 153.3L559.0 163.9L560.0 154.9L561.0 163.2L562.0 154.7L563.0 161.8L564.0 155.1L565.0 161.6L566.0 155.3L567.0 161.6L568.0 154.3L569.0 161.3L570.0 153.5L571.0 160.6L572.0 153.7L573.0 160.0L574.0 153.5L575.0 159.5L576.0 153.8L577.0 160.0L578.0 150.9L579.0 160.3L580.0 149.4L581.0 159.7L582.0 148.1L583.0 160.0L584.0 148.5L585.0 162.2L586.0 148.2L587.0 163.1L588.0 148.5L589.0 162.5L590.0 150.1L591.0 162.9L592.0 152.4L593.0 163.4L594.0 151.4L595.0 165.2L596.0 150.3L597.0 164.1L598.0 151.0L599.0 164.7L600.0 150.8L601.0 164.4L602.0 153.6L603.0 163.4L604.0 155.6L605.0 161.7L606.0 153.2L607.0 160.9L608.0 152.2L609.0 162.2L610.0 151.8L611.0 163.7L612.0 152.6L613.0 164.4L614.0 153.2L615.0 163.8L616.0 153.2L617.0 163.0L618.0 152.4L619.0 161.5L620.0 152.7L621.0 161.7L622.0 151.3L623.0 162.1L624.0 149.4L625.0 160.7L626.0 147.3L627.0 164.4L628.0 147.4L629.0 168.0L630.0 146.6L631.0 169.8L632.0 147.6L633.0 169.4L634.0 151.5L635.0 168.5L636.0 154.3L637.0 167.5L638.0 155.9L639.0 159.5L640.0 157.4L641.0 156.8L642.0 158.3L643.0 154.3L644.0 158.7L645.0 152.5L646.0 158.1L647.0 150.7L648.0 159.4L649.0 151.4L650.0 162.9L651.0 153.1L652.0 162.0L653.0 153.2L654.0 161.3L655.0 152.8L656.0 163.9L657.0 153.8L658.0 164.6L659.0 154.3L660.0 164.1L661.0 151.8L662.0 163.3L663.0 149.9L664.0 163.6L665.0 150.6L666.0 161.9L667.0 150.7L668.0 162.4L669.0 152.1L670.0 163.5L671.0 154.1L672.0 165.4L673.0 151.7L674.0 162.2L675.0 151.9L676.0 163.9L677.0 153.5L678.0 162.8L679.0 154.6L680.0 165.1L681.0 154.3L682.0 163.8L683.0 153.6L684.0 162.5L685.0 155.0L686.0 165.7L687.0 154.8L688.0 166.0L689.0 150.8L690.0 165.2L691.0 150.2L692.0 163.7L693.0 154.4L694.0 164.6L695.0 156.0L696.0 164.5L697.0 154.0L698.0 160.3L699.0 150.7L700.0 162.0L701.0 150.8L702.0 166.0L703.0 152.5L704.0 165.2L705.0 153.9L706.0 162.2L707.0 151.4L708.0 163.3L709.0 152.3L710.0 162.6L711.0 150.0L712.0 163.2L713.0 153.3L714.0 163.5L715.0 152.8L716.0 163.1L717.0 149.1L718.0 162.8L719.0 149.2L720.0 160.2L721.0 149.9L722.0 159.1L723.0 149.6L724.0 160.1L725.0 149.8L726.0 162.3L727.0 150.4L728.0 161.0L729.0 152.1L730.0 163.3L731.0 154.2L732.0 162.9L733.0 155.0L734.0 165.1L735.0 151.6L736.0 165.0L737.0 150.5L738.0 160.7L739.0 154.3L740.0 162.6L741.0 154.3L742.0 164.8L743.0 149.6L744.0 164.2L745.0 149.7L746.0 163.8L747.0 154.7L748.0 161.8L749.0 150.8L750.0 161.7L751.0 150.8L752.0 160.1L753.0 153.1L754.0 160.3L755.0 152.0L756.0 159.6L757.0 151.2L758.0 162.0L759.0 151.4L760.0 164.6L761.0 150.7L762.0 163.8L763.0 152.4L764.0 162.7L765.0 150.3L766.0 159.1L767.0 149.0L768.0 160.2L769.0 151.9L770.0 162.3L771.0 153.2L772.0 162.6L773.0 153.9L774.0 161.9L775.0 153.7L776.0 159.4L777.0 152.1L778.0 159.5L779.0 153.0L780.0 159.2L781.0 151.3L782.0 158.7L783.0 149.2L784.0 160.3L785.0 148.6L786.0 163.6L787.0 150.7L788.0 163.5L789.0 151.5L790.0 161.2L791.0 152.9L792.0 163.4L793.0 152.2L794.0 163.9L795.0 152.2L796.0 160.9L797.0 150.5L798.0 160.7L799.0 150.8L800.0 162.8L801.0 152.2L802.0 163.1L803.0 151.5L804.0 161.1L805.0 152.3L806.0 162.6L807.0 154.5L808.0 159.4L809.0 153.7L810.0 160.4L811.0 153.5L812.0 163.5L813.0 152.9L814.0 162.7L815.0 150.1L816.0 159.9L817.0 149.0L818.0 160.1L819.0 150.1L820.0 161.2L821.0 153.4L822.0 162.4L823.0 151.0L824.0 163.6L825.0 152.7L826.0 161.8L827.0 155.2L828.0 164.9L829.0 155.0L830.0 162.8L831.0 154.3L832.0 161.3L833.0 148.8L834.0 163.5L835.0 150.6L836.0 161.5L837.0 152.3L838.0 164.2L839.0 152.0L840.0 165.7L841.0 150.5L842.0 161.9L843.0 151.8L844.0 164.1L845.0 155.0L846.0 167.1L847.0 152.3L848.0 162.5L849.0 150.0L850.0 160.7L851.0 153.3L852.0 161.1L853.0 151.3L854.0 161.2L855.0 150.2L856.0 163.2L857.0 153.1L858.0 163.1L859.0 151.4L860.0 163.3L861.0 149.7L862.0 168.5L863.0 152.4L864.0 160.5L865.0 152.0L866.0 162.2L867.0 150.8L868.0 160.4L869.0 153.2L870.0 160.2L871.0 153.6L872.0 161.0L873.0 154.2L874.0 162.2L875.0 153.8L876.0 162.9L877.0 153.7L878.0 160.5L879.0 152.3L880.0 161.9L881.0 152.6L882.0 163.9L883.0 154.1L884.0 164.2L885.0 152.0L886.0 162.8L887.0 153.8L888.0 162.5L889.0 154.0L890.0 162.0L891.0 152.2L892.0 160.2L893.0 151.8L894.0 162.7L895.0 150.7L896.0 164.9L897.0 151.5L898.0 162.9L899.0 152.4L900.0 160.0L901.0 151.0L902.0 159.1L903.0 151.2L904.0 162.1L905.0 153.3L906.0 165.7L907.0 154.5L908.0 161.7L909.0 149.5L910.0 159.2L911.0 150.3L912.0 162.7L913.0 153.5L914.0 163.9L915.0 153.2L916.0 164.8L917.0 152.3L918.0 162.2L919.0 154.1L920.0 163.0L921.0 155.3L922.0 163.1L923.0 152.2L924.0 160.5L925.0 149.6L926.0 159.1L927.0 152.1L928.0 161.1L929.0 153.4L930.0 162.5L931.0 151.7L932.0 163.2L933.0 149.4L934.0 162.4L935.0 150.0L936.0 160.5L937.0 150.9L938.0 161.1L939.0 149.5L940.0 160.4L941.0 150.7L942.0 158.7L943.0 151.0L944.0 159.3L945.0 149.8L946.0 160.5L947.0 152.6L948.0 163.0L949.0 153.7L950.0 162.9L951.0 153.7L952.0 159.2L953.0 154.4L954.0 159.7L955.0 154.3L956.0 159.0L957.0 150.2L958.0 160.8L959.0 148.8L960.0 162.7L961.0 151.9L962.0 161.6L963.0 155.5L964.0 163.4L965.0 154.3L966.0 163.5L967.0 152.2L968.0 164.5L969.0 153.1L970.0 165.3L971.0 151.2L972.0 163.4L973.0 153.0L974.0 162.7L975.0 154.2L976.0 162.4L977.0 154.7L978.0 162.3L979.0 156.0L980.0 162.0L981.0 151.3L982.0 163.5L983.0 152.2L984.0 162.7L985.0 150.9L986.0 161.8L987.0 150.2L988.0 162.6L989.0 152.3L990.0 162.6L991.0 151.2L992.0 160.8L993.0 150.3L994.0 160.8L995.0 151.4L996.0 162.7L997.0 151.5L998.0 165.3L999.0 151.1L1000.0 164.3L1001.0 150.5L1002.0 162.4L1003.0 151.2L1004.0 160.9L1005.0 154.8L1006.0 164.8L1007.0 153.5L1008.0 161.5L1009.0 154.2L1010.0 160.5L1011.0 152.7L1012.0 164.2L1013.0 152.2L1014.0 164.2L1015.0 151.3L1016.0 160.3L1017.0 151.9L1018.0 160.5L1019.0 151.2L1020.0 162.5L1021.0 150.3L1022.0 163.3L1023.0 151.3L1024.0 163.5L1025.0 151.0L1026.0 163.5L1027.0 151.8L1028.0 162.4L1029.0 148.7L1030.0 163.5L1031.0 148.6L1032.0 164.0L1033.0 152.9L1034.0 165.0L1035.0 154.7L1036.0 161.7L1037.0 150.6L1038.0 162.2L1039.0 148.8L1040.0 160.9L1041.0 155.0L1042.0 165.1L1043.0 156.0L1044.0 162.0L1045.0 153.3L1046.0 167.7L1047.0 152.6L1048.0 163.8L1049.0 151.6L1050.0 163.1L1051.0 153.7L1052.0 162.4L1053.0 154.7L1054.0 163.2L1055.0 152.9L1056.0 160.7L1057.0 151.7L1058.0 159.8L1059.0 153.0L1060.0 161.7L1061.0 154.8L1062.0 164.0L1063.0 155.7L1064.0 165.2L1065.0 154.1L1066.0 163.7L1067.0 152.3L1068.0 162.6L1069.0 151.0L1070.0 160.1L1071.0 149.5L1072.0 160.2L1073.0 152.9L1074.0 160.7L1075.0 152.8L1076.0 159.5L1077.0 150.3L1078.0 161.2L1079.0 151.3L1080.0 163.3L1081.0 152.0L1082.0 162.4L1083.0 152.4L1084.0 161.7L1085.0 151.6L1086.0 160.2L1087.0 151.0L1088.0 159.3L1089.0 147.9L1090.0 159.9L1091.0 153.3L1092.0 162.0L1093.0 154.3L1094.0 163.2L1095.0 154.1L1096.0 162.7L1097.0 155.4L1098.0 163.3L1099.0 154.8L1100.0 164.4L1101.0 154.1L1102.0 163.2L1103.0 152.7L1104.0 162.2L1105.0 152.3L1106.0 161.0L1107.0 151.8L1108.0 159.0L1109.0 152.4L1110.0 160.7L1111.0 151.5L1112.0 162.5L1113.0 151.9L1114.0 163.1L1115.0 151.6L1116.0 161.6L1117.0 149.0L1118.0 161.8L1119.0 152.1L1120.0 162.5L1121.0 151.8L1122.0 160.1L1123.0 153.8L1124.0 159.6L1125.0 153.7L1126.0 160.7L1127.0 154.5L1128.0 159.3L1129.0 155.5L1130.0 160.1L1131.0 156.0L1132.0 161.1L1133.0 154.4L1134.0 162.7L1135.0 155.6L1136.0 163.5L1137.0 155.2L1138.0 162.3L1139.0 153.3L1140.0 160.4L1141.0 154.0L1142.0 159.7L1143.0 154.2L1144.0 159.7L1145.0 153.5L1146.0 160.9L1147.0 153.0L1148.0 161.7L1149.0 152.5L1150.0 159.0L1151.0 154.6L1152.0 160.7L1153.0 153.6L1154.0 160.4L1155.0 152.5L1156.0 161.0L1157.0 154.3L1158.0 159.4L1159.0 155.0L1160.0 159.9L1161.0 153.7L1162.0 159.2L1163.0 155.7L1164.0 160.7L1165.0 156.1L1166.0 162.4L1167.0 156.5L1168.0 161.3L1169.0 156.4L1170.0 159.5L1171.0 154.4L1172.0 160.6L1173.0 154.1L1174.0 161.2L1175.0 153.8L1176.0 161.2L1177.0 155.7L1178.0 161.7L1179.0 154.4L1180.0 161.1L1181.0 154.6L1182.0 160.4L1183.0 154.8L1184.0 159.5L1185.0 156.2L1186.0 159.6L1187.0 153.5L1188.0 159.7L1189.0 153.4L1190.0 160.0L1191.0 154.6L1192.0 160.5L1193.0 155.0L1194.0 159.5L1195.0 155.2L1196.0 159.6L1197.0 154.7L1198.0 159.7L1199.0 153.2L1200.0 159.1L1201.0 153.8L1202.0 158.5L1203.0 153.0L1204.0 160.6L1205.0 155.2L1206.0 160.2L1207.0 154.6L1208.0 158.3L1209.0 152.3L1210.0 159.7L1211.0 152.8L1212.0 160.0L1213.0 153.8L1214.0 159.5L1215.0 154.8L1216.0 161.1L1217.0 155.9L1218.0 161.6L1219.0 155.0L1220.0 162.4L1221.0 153.4L1222.0 161.2L1223.0 153.5L1224.0 159.6L1225.0 153.5L1226.0 159.4L1227.0 153.0L1228.0 159.5L1229.0 152.4L1230.0 158.7L1231.0 152.1L1232.0 159.2L1233.0 153.1L1234.0 158.8L1235.0 155.0L1236.0 162.1L1237.0 155.9L1238.0 161.6L1239.0 156.5L1240.0 160.0L1241.0 155.7L1242.0 158.6L1243.0 154.5L1244.0 159.5L1245.0 154.4L1246.0 161.1L1247.0 152.6L1248.0 158.9L1249.0 153.0L1250.0 159.5L1251.0 153.9L1252.0 162.0L1253.0 153.6L1254.0 160.2L1255.0 153.6L1256.0 158.8L1257.0 154.1L1258.0 160.7L1259.0 153.7L1260.0 162.5L1261.0 154.5L1262.0 161.1L1263.0 153.8L1264.0 160.0L1265.0 153.8L1266.0 159.8L1267.0 155.5L1268.0 159.3L1269.0 155.9L1270.0 159.7L1271.0 155.7L1272.0 160.0L1273.0 154.2L1274.0 160.4L1275.0 153.0L1276.0 159.3L1277.0 153.9L1278.0 158.7L1279.0 155.3L1280.0 158.4L1281.0 153.6L1282.0 158.7L1283.0 152.8L1284.0 161.0L1285.0 153.2L1286.0 161.2L1287.0 153.3L1288.0 159.2L1289.0 153.0L1290.0 159.7L1291.0 153.9L1292.0 161.3L1293.0 154.6L1294.0 161.4L1295.0 153.8L1296.0 158.7L1297.0 154.1L1298.0 158.9L1299.0 154.2L1300.0 159.0L1301.0 154.9L1302.0 159.0L1303.0 155.3L1304.0 158.9L1305.0 155.6L1306.0 159.5L1307.0 156.2L1308.0 161.4L1309.0 155.8L1310.0 160.1L1311.0 156.3L1312.0 160.7L1313.0 156.3L1314.0 164.8L1315.0 156.1L1316.0 161.7L1317.0 154.1L1318.0 160.5L1319.0 154.2L1320.0 159.6L1321.0 155.8L1322.0 159.6L1323.0 155.6L1324.0 159.4L1325.0 154.3L1326.0 161.5L1327.0 153.3L1328.0 162.3L1329.0 153.4L1330.0 161.4L1331.0 154.2L1332.0 160.4L1333.0 155.4L1334.0 160.6L1335.0 154.8L1336.0 159.3L1337.0 153.1L1338.0 158.8L1339.0 152.4L1340.0 159.1L1341.0 152.2L1342.0 160.4L1343.0 152.4L1344.0 158.4L1345.0 152.6L1346.0 158.5L1347.0 153.1L1348.0 158.7L1349.0 153.1L1350.0 159.4L1351.0 154.9L1352.0 159.7L1353.0 155.8L1354.0 161.3L1355.0 155.9L1356.0 160.3L1357.0 153.8L1358.0 159.6L1359.0 153.8L1360.0 160.7L1361.0 154.8L1362.0 161.8L1363.0 155.1L1364.0 161.9L1365.0 154.3L1366.0 164.4L1367.0 156.0L1368.0 162.4L1369.0 156.5L1370.0 160.4L1371.0 154.6L1372.0 159.4L1373.0 155.8L1374.0 161.0L1375.0 155.9L1376.0 160.9L1377.0 155.7L1378.0 159.6L1379.0 156.0L1380.0 159.4L1381.0 155.6L1382.0 158.2L1383.0 153.1L1384.0 158.1L1385.0 152.1L1386.0 158.2L1387.0 154.3L1388.0 159.4L1389.0 155.2L1390.0 162.4L1391.0 154.3L1392.0 162.1L1393.0 154.7L1394.0 162.2L1395.0 156.0L1396.0 161.1L1397.0 154.4L1398.0 161.5L1399.0 154.1L1400.0 161.0L1401.0 155.0L1402.0 159.9L1403.0 155.0L1404.0 158.9L1405.0 153.5L1406.0 158.1L1407.0 152.2L1408.0 158.1L1409.0 152.4L1410.0 159.4L1411.0 154.3L1412.0 161.4L1413.0 152.7L1414.0 160.4L1415.0 154.1L1416.0 162.1L1417.0 154.6L1418.0 161.9L1419.0 153.1L1420.0 161.0L1421.0 154.5L1422.0 160.6L1423.0 156.2L1424.0 160.8L1425.0 154.7L1426.0 160.9L1427.0 155.1L1428.0 160.5L1429.0 154.3L1430.0 160.2L1431.0 154.2L1432.0 160.6L1433.0 153.8L1434.0 160.5L1435.0 154.4L1436.0 159.4L1437.0 153.7L1438.0 160.5L1439.0 156.5L1440.0 160.3L1441.0 154.8L1442.0 159.3L1443.0 154.0L1444.0 159.3L1445.0 152.4L1446.0 161.6L1447.0 155.3L1448.0 161.9L1449.0 155.3L1450.0 160.5L1451.0 155.3L1452.0 161.2L1453.0 153.9L1454.0 161.2L1455.0 153.6L1456.0 161.9L1457.0 153.5L1458.0 161.4L1459.0 153.5L1460.0 161.3L1461.0 155.1L1462.0 161.8L1463.0 153.4L1464.0 158.5L1465.0 153.4L1466.0 158.9L1467.0 152.8L1468.0 159.4L1469.0 152.1L1470.0 158.3L1471.0 152.5L1472.0 160.4L1473.0 153.9L1474.0 161.1L1475.0 154.7L1476.0 161.1L1477.0 154.2L1478.0 159.8L1479.0 152.9L1480.0 159.4L1481.0 152.2L1482.0 160.7L1483.0 154.9L1484.0 161.0L1485.0 155.8L1486.0 162.3L1487.0 154.5L1488.0 161.0L1489.0 153.3L1490.0 159.4L1491.0 154.4L1492.0 158.1L1493.0 154.7L1494.0 158.5L1495.0 154.5L1496.0 160.2L1497.0 153.6L1498.0 161.7L1499.0 155.5L1500.0 160.9L1501.0 154.4L1502.0 160.0L1503.0 153.4L1504.0 161.6L1505.0 154.3L1506.0 162.0L1507.0 153.5L1508.0 161.2L1509.0 154.6L1510.0 159.7L1511.0 154.6L1512.0 159.5L1513.0 153.4L1514.0 160.1L1515.0 155.4L1516.0 160.4L1517.0 154.0L1518.0 161.3L1519.0 153.4L1520.0 162.4L1521.0 153.3L1522.0 162.2L1523.0 153.4L1524.0 162.1L1525.0 154.3L1526.0 161.8L1527.0 153.9L1528.0 161.8L1529.0 153.8L1530.0 161.6L1531.0 154.7L1532.0 160.4L1533.0 154.9L1534.0 160.7L1535.0 156.0L1536.0 161.0L1537.0 156.2L1538.0 159.6L1539.0 155.6L1540.0 159.8L1541.0 154.1L1542.0 159.5L1543.0 153.6L1544.0 160.6L1545.0 154.4L1546.0 161.0L1547.0 156.2L1548.0 161.1L1549.0 156.0L1550.0 161.7L1551.0 155.1L1552.0 161.9L1553.0 155.2L1554.0 161.3L1555.0 155.9L1556.0 162.0L1557.0 155.9L1558.0 161.8L1559.0 153.7L1560.0 160.9L1561.0 152.5L1562.0 158.1L1563.0 152.1L1564.0 158.5L1565.0 150.2L1566.0 159.2L1567.0 149.9L1568.0 160.0L1569.0 153.1L1570.0 161.0L1571.0 156.0L1572.0 161.2L1573.0 155.5L1574.0 160.7L1575.0 152.9L1576.0 161.1L1577.0 154.3L1578.0 161.8L1579.0 154.8L1580.0 159.9L1581.0 155.1L1582.0 161.5L1583.0 155.3L1584.0 161.2L1585.0 155.5L1586.0 161.9L1587.0 156.2L1588.0 162.6L1589.0 156.3L1590.0 162.6L1591.0 154.1L1592.0 162.6L1593.0 155.8L1594.0 160.1L1595.0 154.8L1596.0 159.6L1597.0 156.0L1598.0 159.0L1599.0 155.6L1600.0 160.1L1601.0 155.4L1602.0 160.7L1603.0 153.5L1604.0 160.0L1605.0 153.1L1606.0 158.3L1607.0 153.4L1608.0 158.1L1609.0 153.0L1610.0 158.4L1611.0 154.5L1612.0 160.0L1613.0 155.4L1614.0 158.8L1615.0 155.8L1616.0 159.1L1617.0 155.4L1618.0 160.8L1619.0 155.7L1620.0 161.3L1621.0 152.6L1622.0 160.0L1623.0 153.0L1624.0 159.9L1625.0 153.6L1626.0 160.3L1627.0 154.7L1628.0 160.9L1629.0 154.7L1630.0 161.4L1631.0 154.8L1632.0 160.3L1633.0 154.3L1634.0 162.0L1635.0 153.8L1636.0 162.6L1637.0 154.3L1638.0 161.4L1639.0 154.8L1640.0 160.7L1641.0 152.4L1642.0 160.4L1643.0 152.2L1644.0 159.5L1645.0 152.3L1646.0 160.9L1647.0 152.7L1648.0 161.9L1649.0 154.4L1650.0 161.2L1651.0 155.1L1652.0 159.0L1653.0 155.6L1654.0 160.6L1655.0 156.0L1656.0 162.0L1657.0 155.2L1658.0 161.8L1659.0 153.8L1660.0 160.3L1661.0 153.1L1662.0 160.2L1663.0 154.3L1664.0 159.1L1665.0 155.7L1666.0 159.1L1667.0 155.9L1668.0 159.1L1669.0 154.0L1670.0 160.2L1671.0 153.3L1672.0 159.2L1673.0 151.4L1674.0 160.0L1675.0 154.5L1676.0 160.4L1677.0 155.5L1678.0 160.8L1679.0 154.3L1680.0 160.2L1681.0 154.3L1682.0 159.0L1683.0 152.9L1684.0 158.5L1685.0 154.8L1686.0 159.2L1687.0 155.0L1688.0 161.1L1689.0 153.9L1690.0 161.6L1691.0 155.2L1692.0 160.9L1693.0 153.5L1694.0 159.7L1695.0 152.7L1696.0 159.1L1697.0 154.3L1698.0 158.8L1699.0 154.0L1700.0 159.8L1701.0 153.5L1702.0 160.1L1703.0 154.5L1704.0 159.3L1705.0 155.5L1706.0 161.3L1707.0 155.4L1708.0 161.9L1709.0 154.5L1710.0 160.5L1711.0 153.3L1712.0 161.0L1713.0 155.4L1714.0 162.4L1715.0 155.0L1716.0 161.9L1717.0 154.4L1718.0 159.7L1719.0 154.7L1720.0 158.9L1721.0 155.7L1722.0 160.3L1723.0 155.3L1724.0 161.2L1725.0 154.5L1726.0 161.4L1727.0 154.1L1728.0 161.4L1729.0 152.7L1730.0 160.4L1731.0 151.7L1732.0 159.0L1733.0 154.9L1734.0 159.5L1735.0 154.2L1736.0 158.7L1737.0 151.9L1738.0 158.6L1739.0 153.7L1740.0 159.8L1741.0 153.5L1742.0 160.1L1743.0 154.7L1744.0 162.4L1745.0 153.1L1746.0 161.8L1747.0 153.8L1748.0 160.6L1749.0 153.4L1750.0 161.6L1751.0 152.6L1752.0 162.3L1753.0 154.2L1754.0 162.4L1755.0 154.7L1756.0 160.9L1757.0 155.9L1758.0 159.7L1759.0 154.7L1760.0 161.0L1761.0 152.7L1762.0 161.9L1763.0 151.9L1764.0 162.5L1765.0 151.6L1766.0 161.7L1767.0 152.7L1768.0 162.5L1769.0 153.1L1770.0 161.6L1771.0 155.3L1772.0 161.5L1773.0 155.0L1774.0 158.9L1775.0 154.9L1776.0 159.4L1777.0 154.4L1778.0 160.5L1779.0 153.1L1780.0 160.9L1781.0 152.2L1782.0 159.4L1783.0 153.3L1784.0 162.4L1785.0 153.5L1786.0 162.6L1787.0 153.6L1788.0 162.7L1789.0 155.0L1790.0 162.6L1791.0 152.8L1792.0 160.8L1793.0 151.8L1794.0 158.8L1795.0 153.6L1796.0 160.3L1797.0 154.6L1798.0 160.7L1799.0 155.0L1800.0 160.8L1801.0 154.2L1802.0 160.1L1803.0 154.9L1804.0 158.7L1805.0 154.5L1806.0 159.9L1807.0 151.7L1808.0 162.2L1809.0 151.7L1810.0 162.1L1811.0 152.8L1812.0 160.4L1813.0 155.3L1814.0 160.4L1815.0 152.3L1816.0 162.9L1817.0 152.2L1818.0 163.5L1819.0 150.9L1820.0 162.9L1821.0 152.7L1822.0 160.4L1823.0 152.2L1824.0 162.7L1825.0 155.3L1826.0 163.7L1827.0 153.2L1828.0 162.9L1829.0 152.2L1830.0 162.1L1831.0 152.3L1832.0 161.2L1833.0 153.0L1834.0 160.9L1835.0 151.5L1836.0 162.9L1837.0 151.2L1838.0 162.1L1839.0 150.1L1840.0 162.5L1841.0 151.6L1842.0 162.7L1843.0 154.4L1844.0 162.7L1845.0 151.9L1846.0 161.9L1847.0 149.3L1848.0 158.9L1849.0 148.3L1850.0 159.3L1851.0 149.1L1852.0 161.1L1853.0 150.3L1854.0 162.0L1855.0 151.8L1856.0 163.7L1857.0 152.8L1858.0 161.8L1859.0 152.7L1860.0 164.6L1861.0 149.6L1862.0 164.3L1863.0 149.6L1864.0 161.5L1865.0 154.8L1866.0 164.4L1867.0 152.9L1868.0 164.3L1869.0 151.8L1870.0 166.6L1871.0 150.4L1872.0 166.3L1873.0 149.6L1874.0 165.5L1875.0 152.8L1876.0 159.2L1877.0 153.2L1878.0 161.4L1879.0 153.5L1880.0 165.8L1881.0 151.4L1882.0 163.1L1883.0 153.8L1884.0 162.7L1885.0 152.9L1886.0 164.4L1887.0 150.7L1888.0 166.0L1889.0 149.0L1890.0 166.0L1891.0 149.0L1892.0 164.5L1893.0 148.5L1894.0 167.2L1895.0 150.5L1896.0 164.7L1897.0 153.9L1898.0 162.6L1899.0 153.8L1900.0 161.0L1901.0 150.7L1902.0 159.1L1903.0 148.7L1904.0 158.0L1905.0 149.9L1906.0 157.8L1907.0 154.3L1908.0 153.8L1909.0 156.8L1910.0 151.8L1911.0 159.7L1912.0 150.4L1913.0 163.5L1914.0 146.8L1915.0 165.0L1916.0 145.5L1917.0 164.5L1918.0 148.3L1919.0 163.1L1920.0 148.3L1921.0 163.0L1922.0 150.0L1923.0 162.1L1924.0 151.8L1925.0 162.1L1926.0 151.2L1927.0 161.6L1928.0 150.6L1929.0 161.7L1930.0 149.3L1931.0 161.0L1932.0 147.3L1933.0 160.6L1934.0 146.7L1935.0 161.4L1936.0 146.6L1937.0 161.6L1938.0 145.8L1939.0 161.9L1940.0 145.9L1941.0 166.9L1942.0 147.6L1943.0 172.6L1944.0 148.4L1945.0 174.0L1946.0 146.2L1947.0 174.0L1948.0 148.4L1949.0 172.0L1950.0 146.4L1951.0 170.6L1952.0 148.0L1953.0 167.2L1954.0 144.8L1955.0 168.0L1956.0 145.3L1957.0 167.3L1958.0 142.3L1959.0 167.3L1960.0 138.8L1961.0 167.3L1962.0 135.1L1963.0 166.9L1964.0 133.2L1965.0 166.4L1966.0 133.5L1967.0 165.4L1968.0 134.7L1969.0 164.0L1970.0 131.7L1971.0 164.6L1972.0 132.0L1973.0 162.3L1974.0 131.3L1975.0 161.7L1976.0 133.7L1977.0 164.4L1978.0 136.7L1979.0 166.7L1980.0 138.6L1981.0 169.1L1982.0 138.8L1983.0 171.0L1984.0 140.5L1985.0 167.6L1986.0 142.5L1987.0 169.2L1988.0 142.6L1989.0 180.3L1990.0 144.0L1991.0 182.0L1992.0 143.4L1993.0 185.2L1994.0 132.5L1995.0 181.6L1996.0 132.6L1997.0 180.2L1998.0 137.1L1999.0 181.7L2000.0 133.2L2001.0 166.5L2002.0 132.6L2003.0 166.4L2004.0 139.0L2005.0 165.4L2006.0 140.0L2007.0 165.8L2008.0 139.4L2009.0 164.9L2010.0 138.9L2011.0 163.2L2012.0 138.6L2013.0 165.6L2014.0 133.1L2015.0 177.2L2016.0 132.7L2017.0 178.3L2018.0 132.4L2019.0 181.7L2020.0 130.4L2021.0 181.2L2022.0 129.4L2023.0 177.7L2024.0 131.5L2025.0 178.7L2026.0 127.7L2027.0 172.9L2028.0 127.4L2029.0 165.3L2030.0 129.3L2031.0 166.2L2032.0 129.8L2033.0 167.4L2034.0 126.6L2035.0 177.3L2036.0 128.5L2037.0 177.7L2038.0 128.4L2039.0 183.0L2040.0 135.5L2041.0 180.8"/>
<path stroke="#1A6FDF" d="M487.0 1441.5L488.0 1453.6L489.0 1444.0L490.0 1431.2L491.0 1418.4L492.0 1412.7L493.0 1426.1L494.0 1436.4L495.0 1432.5L496.0 1438.9L497.0 1432.1L498.0 1447.0L499.0 1431.1L500.0 1438.7L501.0 1430.9L502.0 1439.2L503.0 1430.6L504.0 1439.5L505.0 1432.9L506.0 1439.7L507.0 1435.3L508.0 1440.1L509.0 1435.4L510.0 1441.2L511.0 1435.9L512.0 1442.2L513.0 1437.4L514.0 1443.7L515.0 1436.4L516.0 1443.4L517.0 1436.5L518.0 1442.8L519.0 1437.3L520.0 1442.2L521.0 1435.8L522.0 1441.0L523.0 1434.3L524.0 1439.8L525.0 1434.4L526.0 1441.9L527.0 1432.1L528.0 1441.1L529.0 1434.6L530.0 1441.0L531.0 1437.0L532.0 1441.3L533.0 1436.8L534.0 1443.4L535.0 1437.2L536.0 1443.3L537.0 1437.1L538.0 1442.0L539.0 1436.1L540.0 1441.9L541.0 1436.1L542.0 1441.3L543.0 1436.3L544.0 1440.7L545.0 1436.9L546.0 1440.9L547.0 1436.8L548.0 1440.5L549.0 1436.5L550.0 1439.9L551.0 1436.8L552.0 1440.3L553.0 1436.8L554.0 1440.6L555.0 1437.1L556.0 1440.6L557.0 1436.5L558.0 1439.9L559.0 1434.3L560.0 1439.9L561.0 1434.5L562.0 1439.8L563.0 1435.4L564.0 1438.9L565.0 1435.3L566.0 1438.5L567.0 1435.0L568.0 1438.8L569.0 1435.0L570.0 1439.2L571.0 1435.4L572.0 1438.4L573.0 1436.0L574.0 1438.2L575.0 1436.3L576.0 1439.0L577.0 1436.7L578.0 1439.9L579.0 1436.9L580.0 1439.4L581.0 1436.3L582.0 1438.2L583.0 1435.5L584.0 1437.8L585.0 1436.0L586.0 1438.2L587.0 1436.4L588.0 1438.2L589.0 1436.0L590.0 1437.6L591.0 1435.8L592.0 1437.7L593.0 1435.9L594.0 1438.7L595.0 1435.6L596.0 1438.2L597.0 1435.6L598.0 1438.1L599.0 1435.9L600.0 1438.0L601.0 1435.5L602.0 1438.2L603.0 1435.5L604.0 1438.5L605.0 1435.8L606.0 1438.1L607.0 1435.7L608.0 1437.6L609.0 1435.8L610.0 1437.4L611.0 1435.6L612.0 1437.4L613.0 1435.3L614.0 1436.8L615.0 1435.8L616.0 1436.7L617.0 1435.8L618.0 1436.7L619.0 1435.4L620.0 1436.4L621.0 1434.9L622.0 1436.0L623.0 1434.9L624.0 1435.8L625.0 1434.7L626.0 1435.7L627.0 1434.4L628.0 1435.7L629.0 1434.3L630.0 1435.4L631.0 1434.0L632.0 1434.8L633.0 1433.6L634.0 1434.0L635.0 1432.8L636.0 1433.2L637.0 1431.8L638.0 1432.1L639.0 1431.0L640.0 1430.8L641.0 1429.6L642.0 1429.3L643.0 1428.1L644.0 1427.4L645.0 1426.1L646.0 1425.1L647.0 1423.5L648.0 1422.1L649.0 1420.0L650.0 1418.3L651.0 1415.9L652.0 1413.8L653.0 1411.2L654.0 1408.5L655.0 1405.4L656.0 1402.1L657.0 1398.5L658.0 1394.7L659.0 1390.4L660.0 1385.6L661.0 1380.2L662.0 1373.6L663.0 1365.6L664.0 1356.8L665.0 1347.4L666.0 1338.0L667.0 1328.8L668.0 1319.9L669.0 1311.1L670.0 1302.1L671.0 1293.0L672.0 1283.5L673.0 1273.6L674.0 1263.1L675.0 1251.8L676.0 1239.7L677.0 1226.8L678.0 1213.3L679.0 1199.4L680.0 1185.3L681.0 1171.2L682.0 1157.2L683.0 1143.4L684.0 1129.5L685.0 1115.5L686.0 1101.4L687.0 1087.2L688.0 1072.9L689.0 1058.6L690.0 1044.3L691.0 1030.0L692.0 1015.7L693.0 1001.5L694.0 987.2L695.0 972.7L696.0 958.2L697.0 943.7L698.0 929.1L699.0 914.5L700.0 900.0L701.0 885.5L702.0 871.1L703.0 856.8L704.0 842.7L705.0 828.7L706.0 814.9L707.0 801.4L708.0 788.0L709.0 774.8L710.0 761.8L711.0 748.8L712.0 736.0L713.0 723.3L714.0 710.7L715.0 698.1L716.0 685.6L717.0 673.1L718.0 660.6L719.0 648.1L720.0 635.6L721.0 623.0L722.0 610.0L723.0 596.9L724.0 583.7L725.0 570.5L726.0 558.0L727.0 544.6L728.0 533.4L729.0 520.4L730.0 510.7L731.0 498.1L732.0 490.0L733.0 477.4L734.0 470.8L735.0 459.1L736.0 454.6L737.0 444.0L738.0 440.6L739.0 430.5L740.0 427.8L741.0 417.7L742.0 416.0L743.0 407.2L744.0 408.1L745.0 396.2L746.0 398.5L747.0 385.4L748.0 386.7L749.0 376.1L750.0 378.5L751.0 366.6L752.0 370.5L753.0 361.7L754.0 364.7L755.0 353.5L756.0 358.7L757.0 344.9L758.0 351.6L759.0 333.6L760.0 343.6L761.0 326.4L762.0 334.3L763.0 320.7L764.0 326.6L765.0 314.0L766.0 321.6L767.0 309.9L768.0 314.1L769.0 304.2L770.0 305.6L771.0 292.5L772.0 298.5L773.0 288.3L774.0 293.1L775.0 285.0L776.0 290.4L777.0 280.3L778.0 289.9L779.0 276.5L780.0 286.6L781.0 271.5L782.0 280.3L783.0 270.3L784.0 277.8L785.0 267.9L786.0 272.6L787.0 258.5L788.0 266.0L789.0 254.5L790.0 263.2L791.0 253.7L792.0 263.9L793.0 251.7L794.0 262.4L795.0 249.6L796.0 260.8L797.0 247.4L798.0 255.5L799.0 241.9L800.0 252.2L801.0 243.1L802.0 249.5L803.0 240.9L804.0 249.3L805.0 237.0L806.0 247.8L807.0 235.8L808.0 246.5L809.0 232.4L810.0 243.6L811.0 231.0L812.0 241.4L813.0 231.1L814.0 240.0L815.0 229.5L816.0 236.0L817.0 225.0L818.0 233.8L819.0 225.7L820.0 236.6L821.0 228.1L822.0 238.1L823.0 227.2L824.0 235.8L825.0 220.6L826.0 231.4L827.0 219.7L828.0 230.2L829.0 218.0L830.0 228.1L831.0 212.6L832.0 226.7L833.0 213.1L834.0 227.7L835.0 213.6L836.0 226.3L837.0 210.6L838.0 223.3L839.0 209.6L840.0 224.7L841.0 213.2L842.0 222.8L843.0 213.0L844.0 218.6L845.0 209.3L846.0 214.4L847.0 206.3L848.0 215.5L849.0 202.1L850.0 214.1L851.0 199.1L852.0 212.9L853.0 200.5L854.0 213.4L855.0 204.2L856.0 213.3L857.0 199.4L858.0 212.9L859.0 197.9L860.0 211.8L861.0 198.4L862.0 208.2L863.0 197.5L864.0 205.5L865.0 196.1L866.0 207.1L867.0 196.4L868.0 212.8L869.0 199.2L870.0 216.4L871.0 197.7L872.0 222.4L873.0 197.1L874.0 212.0L875.0 198.1L876.0 210.1L877.0 198.7L878.0 210.3L879.0 197.3L880.0 209.9L881.0 196.6L882.0 212.2L883.0 196.4L884.0 213.7L885.0 199.1L886.0 215.9L887.0 199.4L888.0 213.4L889.0 199.0L890.0 216.6L891.0 200.4L892.0 215.8L893.0 196.0L894.0 211.7L895.0 196.8L896.0 208.4L897.0 201.1L898.0 209.2L899.0 201.6L900.0 214.5L901.0 201.2L902.0 218.7L903.0 199.6L904.0 218.4L905.0 199.7L906.0 218.0L907.0 204.5L908.0 217.7L909.0 205.4L910.0 217.7L911.0 202.3L912.0 217.4L913.0 204.5L914.0 218.6L915.0 206.4L916.0 219.2L917.0 204.9L918.0 218.3L919.0 204.6L920.0 216.3L921.0 206.3L922.0 215.6L923.0 208.3L924.0 217.2L925.0 208.8L926.0 220.7L927.0 207.8L928.0 220.2L929.0 205.6L930.0 217.6L931.0 202.9L932.0 216.5L933.0 204.0L934.0 220.6L935.0 204.2L936.0 220.9L937.0 202.2L938.0 217.0L939.0 202.9L940.0 219.0L941.0 206.0L942.0 222.3L943.0 209.4L944.0 223.1L945.0 209.5L946.0 220.4L947.0 206.6L948.0 220.2L949.0 205.3L950.0 224.8L951.0 207.9L952.0 224.8L953.0 211.3L954.0 226.7L955.0 214.6L956.0 227.9L957.0 216.9L958.0 228.0L959.0 215.6L960.0 228.1L961.0 215.8L962.0 224.8L963.0 213.8L964.0 225.1L965.0 212.4L966.0 228.1L967.0 215.0L968.0 227.8L969.0 216.7L970.0 228.6L971.0 213.7L972.0 227.7L973.0 212.6L974.0 227.7L975.0 215.2L976.0 225.4L977.0 218.7L978.0 228.0L979.0 218.9L980.0 230.5L981.0 214.3L982.0 231.9L983.0 215.3L984.0 234.4L985.0 216.9L986.0 233.4L987.0 218.9L988.0 232.7L989.0 222.4L990.0 233.6L991.0 222.6L992.0 237.8L993.0 220.9L994.0 237.7L995.0 224.3L996.0 234.6L997.0 225.9L998.0 233.0L999.0 226.2L1000.0 234.5L1001.0 224.8L1002.0 237.0L1003.0 219.2L1004.0 235.3L1005.0 219.2L1006.0 233.2L1007.0 223.4L1008.0 233.9L1009.0 225.1L1010.0 236.5L1011.0 227.5L1012.0 241.1L1013.0 229.1L1014.0 242.7L1015.0 227.8L1016.0 253.9L1017.0 229.3L1018.0 243.3L1019.0 229.9L1020.0 241.5L1021.0 230.3L1022.0 244.2L1023.0 232.5L1024.0 247.1L1025.0 233.4L1026.0 246.0L1027.0 231.3L1028.0 242.0L1029.0 235.2L1030.0 243.1L1031.0 235.8L1032.0 246.2L1033.0 229.7L1034.0 248.9L1035.0 230.0L1036.0 247.8L1037.0 230.6L1038.0 240.7L1039.0 230.5L1040.0 243.8L1041.0 230.1L1042.0 247.0L1043.0 233.0L1044.0 243.8L1045.0 236.1L1046.0 248.7L1047.0 237.8L1048.0 250.7L1049.0 237.0L1050.0 250.5L1051.0 238.1L1052.0 256.3L1053.0 235.6L1054.0 251.3L1055.0 232.7L1056.0 251.7L1057.0 232.2L1058.0 246.0L1059.0 239.1L1060.0 247.4L1061.0 237.1L1062.0 248.9L1063.0 237.1L1064.0 251.0L1065.0 239.3L1066.0 252.3L1067.0 239.8L1068.0 249.4L1069.0 238.3L1070.0 249.8L1071.0 235.8L1072.0 247.0L1073.0 236.6L1074.0 247.2L1075.0 237.8L1076.0 247.2L1077.0 236.3L1078.0 246.3L1079.0 233.4L1080.0 245.5L1081.0 229.8L1082.0 243.5L1083.0 228.7L1084.0 248.4L1085.0 231.9L1086.0 250.2L1087.0 236.7L1088.0 254.9L1089.0 237.3L1090.0 248.8L1091.0 237.3L1092.0 245.9L1093.0 238.2L1094.0 246.9L1095.0 237.1L1096.0 244.1L1097.0 236.4L1098.0 246.9L1099.0 237.5L1100.0 247.4L1101.0 235.9L1102.0 248.5L1103.0 238.7L1104.0 249.9L1105.0 237.4L1106.0 252.4L1107.0 238.0L1108.0 254.9L1109.0 242.7L1110.0 252.3L1111.0 242.8L1112.0 250.9L1113.0 242.5L1114.0 254.5L1115.0 241.5L1116.0 251.7L1117.0 240.2L1118.0 251.4L1119.0 236.2L1120.0 258.0L1121.0 232.0L1122.0 249.9L1123.0 230.6L1124.0 249.9L1125.0 234.7L1126.0 251.2L1127.0 238.3L1128.0 253.1L1129.0 238.0L1130.0 251.9L1131.0 237.6L1132.0 249.7L1133.0 237.5L1134.0 245.7L1135.0 234.9L1136.0 245.7L1137.0 233.1L1138.0 248.6L1139.0 233.6L1140.0 249.8L1141.0 235.1L1142.0 246.9L1143.0 239.2L1144.0 246.2L1145.0 239.1L1146.0 249.4L1147.0 238.0L1148.0 252.6L1149.0 241.1L1150.0 253.7L1151.0 244.1L1152.0 255.3L1153.0 243.0L1154.0 254.3L1155.0 241.7L1156.0 251.4L1157.0 239.3L1158.0 251.0L1159.0 234.6L1160.0 253.1L1161.0 234.9L1162.0 254.7L1163.0 239.4L1164.0 254.8L1165.0 237.9L1166.0 254.9L1167.0 238.9L1168.0 255.7L1169.0 243.7L1170.0 251.7L1171.0 244.3L1172.0 250.9L1173.0 241.3L1174.0 250.7L1175.0 239.2L1176.0 253.2L1177.0 240.7L1178.0 256.4L1179.0 239.0L1180.0 255.1L1181.0 239.0L1182.0 253.9L1183.0 239.5L1184.0 254.7L1185.0 238.9L1186.0 252.5L1187.0 238.0L1188.0 256.6L1189.0 240.9L1190.0 260.2L1191.0 247.1L1192.0 259.1L1193.0 246.4L1194.0 257.8L1195.0 247.8L1196.0 261.5L1197.0 246.4L1198.0 258.9L1199.0 238.5L1200.0 255.5L1201.0 237.9L1202.0 258.2L1203.0 247.0L1204.0 263.1L1205.0 249.7L1206.0 261.6L1207.0 247.2L1208.0 260.2L1209.0 246.8L1210.0 260.6L1211.0 246.3L1212.0 256.6L1213.0 244.6L1214.0 253.4L1215.0 241.9L1216.0 258.1L1217.0 242.4L1218.0 259.2L1219.0 245.2L1220.0 259.2L1221.0 242.8L1222.0 258.8L1223.0 239.9L1224.0 258.7L1225.0 239.2L1226.0 253.2L1227.0 240.4L1228.0 254.3L1229.0 241.4L1230.0 256.9L1231.0 243.1L1232.0 262.3L1233.0 244.8L1234.0 261.3L1235.0 242.7L1236.0 257.6L1237.0 243.8L1238.0 252.8L1239.0 246.6L1240.0 255.7L1241.0 246.0L1242.0 256.7L1243.0 246.4L1244.0 258.9L1245.0 247.2L1246.0 257.9L1247.0 243.7L1248.0 257.0L1249.0 240.2L1250.0 253.9L1251.0 241.0L1252.0 253.8L1253.0 245.5L1254.0 259.4L1255.0 245.5L1256.0 258.3L1257.0 244.4L1258.0 256.0L1259.0 246.7L1260.0 258.8L1261.0 247.1L1262.0 260.9L1263.0 245.5L1264.0 260.8L1265.0 243.9L1266.0 258.0L1267.0 238.1L1268.0 252.9L1269.0 236.0L1270.0 251.0L1271.0 236.8L1272.0 253.0L1273.0 238.8L1274.0 256.5L1275.0 244.0L1276.0 260.4L1277.0 246.7L1278.0 259.6L1279.0 245.5L1280.0 255.7L1281.0 241.0L1282.0 249.6L1283.0 233.5L1284.0 248.6L1285.0 232.9L1286.0 253.2L1287.0 233.9L1288.0 256.6L1289.0 236.1L1290.0 258.6L1291.0 242.3L1292.0 260.0L1293.0 242.3L1294.0 256.4L1295.0 241.1L1296.0 253.8L1297.0 242.3L1298.0 256.2L1299.0 242.7L1300.0 259.4L1301.0 240.5L1302.0 260.2L1303.0 238.5L1304.0 260.1L1305.0 238.3L1306.0 255.7L1307.0 243.1L1308.0 257.8L1309.0 242.3L1310.0 254.6L1311.0 238.9L1312.0 253.4L1313.0 235.3L1314.0 252.3L1315.0 238.4L1316.0 255.3L1317.0 239.7L1318.0 256.6L1319.0 237.1L1320.0 260.2L1321.0 239.4L1322.0 253.2L1323.0 240.2L1324.0 254.6L1325.0 233.2L1326.0 249.3L1327.0 228.2L1328.0 243.5L1329.0 229.1L1330.0 243.4L1331.0 230.5L1332.0 244.6L1333.0 230.6L1334.0 246.5L1335.0 229.8L1336.0 247.1L1337.0 232.3L1338.0 246.5L1339.0 234.1L1340.0 246.7L1341.0 231.7L1342.0 246.4L1343.0 231.4L1344.0 245.5L1345.0 229.7L1346.0 247.5L1347.0 228.1L1348.0 248.1L1349.0 227.4L1350.0 246.9L1351.0 229.0L1352.0 246.2L1353.0 228.4L1354.0 248.0L1355.0 221.7L1356.0 248.1L1357.0 235.0L1358.0 245.8L1359.0 230.8L1360.0 241.9L1361.0 224.8L1362.0 240.3L1363.0 224.2L1364.0 242.4L1365.0 225.1L1366.0 247.5L1367.0 229.0L1368.0 247.8L1369.0 230.4L1370.0 248.1L1371.0 228.1L1372.0 247.4L1373.0 229.4L1374.0 242.7L1375.0 233.2L1376.0 244.9L1377.0 233.7L1378.0 246.2L1379.0 231.6L1380.0 244.9L1381.0 229.2L1382.0 244.3L1383.0 232.9L1384.0 246.2L1385.0 238.6L1386.0 252.3L1387.0 240.6L1388.0 254.7L1389.0 242.0L1390.0 253.8L1391.0 231.0L1392.0 257.5L1393.0 238.1L1394.0 256.6L1395.0 237.0L1396.0 255.2L1397.0 236.8L1398.0 254.5L1399.0 236.1L1400.0 250.9L1401.0 234.9L1402.0 247.8L1403.0 233.5L1404.0 245.5L1405.0 235.5L1406.0 246.8L1407.0 238.2L1408.0 247.9L1409.0 237.5L1410.0 249.8L1411.0 232.9L1412.0 250.8L1413.0 230.3L1414.0 250.4L1415.0 230.0L1416.0 247.1L1417.0 231.8L1418.0 248.8L1419.0 226.8L1420.0 247.5L1421.0 230.2L1422.0 243.8L1423.0 232.2L1424.0 245.0L1425.0 238.9L1426.0 249.2L1427.0 238.8L1428.0 255.6L1429.0 232.4L1430.0 249.9L1431.0 231.5L1432.0 248.7L1433.0 234.1L1434.0 248.8L1435.0 233.9L1436.0 242.3L1437.0 232.4L1438.0 243.5L1439.0 234.3L1440.0 244.7L1441.0 234.5L1442.0 248.7L1443.0 232.6L1444.0 248.8L1445.0 227.7L1446.0 243.6L1447.0 228.0L1448.0 244.4L1449.0 233.7L1450.0 248.2L1451.0 236.7L1452.0 248.5L1453.0 233.3L1454.0 244.9L1455.0 228.8L1456.0 243.3L1457.0 226.1L1458.0 244.3L1459.0 230.9L1460.0 241.5L1461.0 231.5L1462.0 241.0L1463.0 231.6L1464.0 245.5L1465.0 232.1L1466.0 253.8L1467.0 235.0L1468.0 250.8L1469.0 237.1L1470.0 251.1L1471.0 238.0L1472.0 248.2L1473.0 240.1L1474.0 249.2L1475.0 242.2L1476.0 253.0L1477.0 241.3L1478.0 254.4L1479.0 235.4L1480.0 250.9L1481.0 235.6L1482.0 250.5L1483.0 238.0L1484.0 249.9L1485.0 235.9L1486.0 254.2L1487.0 237.0L1488.0 253.7L1489.0 235.1L1490.0 249.8L1491.0 237.6L1492.0 251.8L1493.0 241.5L1494.0 256.6L1495.0 243.3L1496.0 257.0L1497.0 238.5L1498.0 251.3L1499.0 232.8L1500.0 247.5L1501.0 235.0L1502.0 247.5L1503.0 240.7L1504.0 254.1L1505.0 239.7L1506.0 257.1L1507.0 236.9L1508.0 255.1L1509.0 239.0L1510.0 251.5L1511.0 240.5L1512.0 254.1L1513.0 242.1L1514.0 258.4L1515.0 239.2L1516.0 257.4L1517.0 239.0L1518.0 253.1L1519.0 235.2L1520.0 251.2L1521.0 232.2L1522.0 251.6L1523.0 232.5L1524.0 252.8L1525.0 238.8L1526.0 252.1L1527.0 239.8L1528.0 253.5L1529.0 238.7L1530.0 255.1L1531.0 241.3L1532.0 252.6L1533.0 240.2L1534.0 248.3L1535.0 235.8L1536.0 249.1L1537.0 237.2L1538.0 249.6L1539.0 233.8L1540.0 245.3L1541.0 227.8L1542.0 246.1L1543.0 228.5L1544.0 244.3L1545.0 230.4L1546.0 250.2L1547.0 233.1L1548.0 257.0L1549.0 239.1L1550.0 255.4L1551.0 240.3L1552.0 251.1L1553.0 238.1L1554.0 249.8L1555.0 240.2L1556.0 246.4L1557.0 238.1L1558.0 247.5L1559.0 236.5L1560.0 253.1L1561.0 236.3L1562.0 253.1L1563.0 240.4L1564.0 257.0L1565.0 239.8L1566.0 257.6L1567.0 238.1L1568.0 254.4L1569.0 235.9L1570.0 251.2L1571.0 232.4L1572.0 247.7L1573.0 233.1L1574.0 249.1L1575.0 236.3L1576.0 255.9L1577.0 242.6L1578.0 261.1L1579.0 248.1L1580.0 263.1L1581.0 248.5L1582.0 263.1L1583.0 248.0L1584.0 260.6L1585.0 246.5L1586.0 260.5L1587.0 251.2L1588.0 261.1L1589.0 252.6L1590.0 262.3L1591.0 251.2L1592.0 267.4L1593.0 255.2L1594.0 267.7L1595.0 253.3L1596.0 267.8L1597.0 254.6L1598.0 264.6L1599.0 251.0L1600.0 262.5L1601.0 251.5L1602.0 268.0L1603.0 252.9L1604.0 269.3L1605.0 251.8L1606.0 269.8L1607.0 251.4L1608.0 267.0L1609.0 253.8L1610.0 263.7L1611.0 253.5L1612.0 263.5L1613.0 248.9L1614.0 268.0L1615.0 252.9L1616.0 271.8L1617.0 250.4L1618.0 264.8L1619.0 248.4L1620.0 260.7L1621.0 248.7L1622.0 262.4L1623.0 252.7L1624.0 266.5L1625.0 255.9L1626.0 264.5L1627.0 256.5L1628.0 264.0L1629.0 254.6L1630.0 263.8L1631.0 250.2L1632.0 264.8L1633.0 246.6L1634.0 261.2L1635.0 246.3L1636.0 266.4L1637.0 247.7L1638.0 265.1L1639.0 247.8L1640.0 264.7L1641.0 247.4L1642.0 263.3L1643.0 248.8L1644.0 264.9L1645.0 249.6L1646.0 261.8L1647.0 247.5L1648.0 262.7L1649.0 246.3L1650.0 263.5L1651.0 248.1L1652.0 264.5L1653.0 246.7L1654.0 266.1L1655.0 245.4L1656.0 266.9L1657.0 247.3L1658.0 264.7L1659.0 252.3L1660.0 269.1L1661.0 253.5L1662.0 276.1L1663.0 257.3L1664.0 278.1L1665.0 263.2L1666.0 279.5L1667.0 263.9L1668.0 278.9L1669.0 264.3L1670.0 279.6L1671.0 262.7L1672.0 280.5L1673.0 262.1L1674.0 281.4L1675.0 261.3L1676.0 280.7L1677.0 262.8L1678.0 276.7L1679.0 264.6L1680.0 276.3L1681.0 265.0L1682.0 273.5L1683.0 265.0L1684.0 273.4L1685.0 264.4L1686.0 279.5L1687.0 266.0L1688.0 281.6L1689.0 261.2L1690.0 278.4L1691.0 260.2L1692.0 274.6L1693.0 256.5L1694.0 278.3L1695.0 258.6L1696.0 279.9L1697.0 257.2L1698.0 279.3L1699.0 254.6L1700.0 275.1L1701.0 252.3L1702.0 268.6L1703.0 255.2L1704.0 273.8L1705.0 262.0L1706.0 274.4L1707.0 262.0L1708.0 280.5L1709.0 260.8L1710.0 274.5L1711.0 259.9L1712.0 274.2L1713.0 262.6L1714.0 279.6L1715.0 268.5L1716.0 291.5L1717.0 276.6L1718.0 295.5L1719.0 280.6L1720.0 297.6L1721.0 282.5L1722.0 299.5L1723.0 283.5L1724.0 298.5L1725.0 280.3L1726.0 294.7L1727.0 281.2L1728.0 293.5L1729.0 281.2L1730.0 295.7L1731.0 278.8L1732.0 290.2L1733.0 275.6L1734.0 285.1L1735.0 267.5L1736.0 280.8L1737.0 265.0L1738.0 281.7L1739.0 269.5L1740.0 283.6L1741.0 273.8L1742.0 282.7L1743.0 267.5L1744.0 282.4L1745.0 265.7L1746.0 280.8L1747.0 267.7L1748.0 277.0L1749.0 267.8L1750.0 280.0L1751.0 267.7L1752.0 282.4L1753.0 271.1L1754.0 281.6L1755.0 272.0L1756.0 283.8L1757.0 271.9L1758.0 287.4L1759.0 271.9L1760.0 289.6L1761.0 274.7L1762.0 289.5L1763.0 277.0L1764.0 285.9L1765.0 272.6L1766.0 283.1L1767.0 267.5L1768.0 283.2L1769.0 268.4L1770.0 285.0L1771.0 268.7L1772.0 287.5L1773.0 276.1L1774.0 291.3L1775.0 278.5L1776.0 287.4L1777.0 276.5L1778.0 283.7L1779.0 274.7L1780.0 285.8L1781.0 271.0L1782.0 284.8L1783.0 266.2L1784.0 280.2L1785.0 260.3L1786.0 274.3L1787.0 253.3L1788.0 267.2L1789.0 250.0L1790.0 265.9L1791.0 248.6L1792.0 265.3L1793.0 254.9L1794.0 267.4L1795.0 261.7L1796.0 273.1L1797.0 267.3L1798.0 282.1L1799.0 266.8L1800.0 282.9L1801.0 265.8L1802.0 278.0L1803.0 259.3L1804.0 272.8L1805.0 255.6L1806.0 271.7L1807.0 251.0L1808.0 271.3L1809.0 250.8L1810.0 268.1L1811.0 246.4L1812.0 263.1L1813.0 239.4L1814.0 261.5L1815.0 243.4L1816.0 260.0L1817.0 242.6L1818.0 258.2L1819.0 240.9L1820.0 256.2L1821.0 242.9L1822.0 256.9L1823.0 243.7L1824.0 257.5L1825.0 244.6L1826.0 262.6L1827.0 243.7L1828.0 264.0L1829.0 243.8L1830.0 264.1L1831.0 248.0L1832.0 262.6L1833.0 245.5L1834.0 261.6L1835.0 241.2L1836.0 258.5L1837.0 236.3L1838.0 253.5L1839.0 234.1L1840.0 248.0L1841.0 226.6L1842.0 240.2L1843.0 227.2L1844.0 235.4L1845.0 226.8L1846.0 237.5L1847.0 227.8L1848.0 242.2L1849.0 228.6L1850.0 244.4L1851.0 226.7L1852.0 248.3L1853.0 232.4L1854.0 253.9L1855.0 237.1L1856.0 259.0L1857.0 238.1L1858.0 258.9L1859.0 238.0L1860.0 258.4L1861.0 240.8L1862.0 260.8L1863.0 245.1L1864.0 261.8L1865.0 246.8L1866.0 261.2L1867.0 246.9L1868.0 259.8L1869.0 242.5L1870.0 258.5L1871.0 246.2L1872.0 259.6L1873.0 252.1L1874.0 266.5L1875.0 254.4L1876.0 271.6L1877.0 255.1L1878.0 266.8L1879.0 258.4L1880.0 267.1L1881.0 258.4L1882.0 269.2L1883.0 246.9L1884.0 270.2L1885.0 254.7L1886.0 271.0L1887.0 261.4L1888.0 272.1L1889.0 264.5L1890.0 275.8L1891.0 265.4L1892.0 280.5L1893.0 267.4L1894.0 281.5L1895.0 272.4L1896.0 282.6L1897.0 274.5L1898.0 283.8L1899.0 270.5L1900.0 283.7L1901.0 272.6L1902.0 289.7L1903.0 275.6L1904.0 287.6L1905.0 278.1L1906.0 286.3L1907.0 283.4L1908.0 284.0L1909.0 286.6L1910.0 279.8L1911.0 289.9L1912.0 276.4L1913.0 297.1L1914.0 274.5L1915.0 305.7L1916.0 273.6L1917.0 308.9L1918.0 276.0L1919.0 310.8L1920.0 278.2L1921.0 312.0L1922.0 287.8L1923.0 314.9L1924.0 301.8L1925.0 315.0L1926.0 302.2L1927.0 316.3L1928.0 303.1L1929.0 318.0L1930.0 302.2L1931.0 318.7L1932.0 304.7L1933.0 319.3L1934.0 307.1L1935.0 320.5L1936.0 307.8L1937.0 322.3L1938.0 307.0L1939.0 325.5L1940.0 308.5L1941.0 328.9L1942.0 307.9L1943.0 330.6L1944.0 301.9L1945.0 329.0L1946.0 298.4L1947.0 329.5L1948.0 297.8L1949.0 326.8L1950.0 297.2L1951.0 325.8L1952.0 293.9L1953.0 315.4L1954.0 293.1L1955.0 317.0L1956.0 293.3L1957.0 323.9L1958.0 293.8L1959.0 327.6L1960.0 296.2L1961.0 332.5L1962.0 300.7L1963.0 332.2L1964.0 307.4L1965.0 333.1L1966.0 310.0L1967.0 333.1L1968.0 307.1L1969.0 330.9L1970.0 300.7L1971.0 328.6L1972.0 298.0L1973.0 327.4L1974.0 296.2L1975.0 318.2L1976.0 294.6L1977.0 315.3L1978.0 293.7L1979.0 316.6L1980.0 296.4L1981.0 326.5L1982.0 299.5L1983.0 333.9L1984.0 303.7L1985.0 337.0L1986.0 306.4L1987.0 340.4L1988.0 310.5L1989.0 341.2L1990.0 318.3L1991.0 344.5L1992.0 317.9L1993.0 346.0L1994.0 310.6L1995.0 343.6L1996.0 305.4L1997.0 341.7L1998.0 290.6L1999.0 338.9L2000.0 290.8L2001.0 334.0L2002.0 287.3L2003.0 326.8L2004.0 289.9L2005.0 325.5L2006.0 289.7L2007.0 326.4L2008.0 290.8L2009.0 325.6L2010.0 293.9L2011.0 329.3L2012.0 298.1L2013.0 331.9L2014.0 295.7L2015.0 333.2L2016.0 288.6L2017.0 337.9L2018.0 283.9L2019.0 338.5L2020.0 286.1L2021.0 342.6L2022.0 283.9L2023.0 342.6L2024.0 286.5L2025.0 344.3L2026.0 311.8L2027.0 346.3L2028.0 304.2L2029.0 343.5L2030.0 289.1L2031.0 336.9L2032.0 291.5L2033.0 335.5L2034.0 290.1L2035.0 339.2L2036.0 291.4L2037.0 341.5L2038.0 289.5L2039.0 345.5L2040.0 293.3L2041.0 343.9"/>
</g>
<rect x="307.5" y="29.5" width="1907.0" height="1537.0" fill="none" stroke="#000" stroke-width="7"/>
<g font-size="133">
<text x="267.6" y="1479.4" text-anchor="end">0</text>
<text x="267.6" y="1223.2" text-anchor="end">20</text>
<text x="267.6" y="967.1" text-anchor="end">40</text>
<text x="267.6" y="710.9" text-anchor="end">60</text>
<text x="267.6" y="454.8" text-anchor="end">80</text>
<text x="265.9" y="198.6" text-anchor="end" letter-spacing="-1.6">100</text>
<text x="481.4" y="1710" text-anchor="middle">200</text>
<text x="828.1" y="1710" text-anchor="middle">400</text>
<text x="1174.8" y="1710" text-anchor="middle">600</text>
<text x="1521.5" y="1710" text-anchor="middle">800</text>
<text x="1869.1" y="1710" text-anchor="middle" letter-spacing="-1.6">1000</text>
<text x="2215.8" y="1710" text-anchor="middle" letter-spacing="-1.6">1200</text>
<text x="1265.5" y="1850.3" text-anchor="middle">λ, nm</text>
<text transform="translate(113 909.6) rotate(-90)">T<tspan dx="-4">,</tspan><tspan dx="-3"> %</tspan></text>
</g>
<rect x="1422.3" y="425.2" width="743.5" height="310.3" fill="#fff" stroke="#000" stroke-width="3"/>
<rect x="1429" y="459" width="133" height="13" fill="#F14040"/>
<rect x="1429" y="532.2" width="133" height="11.7" fill="#515151"/>
<rect x="1429" y="604" width="133" height="12.1" fill="#1A6FDF"/>
<g font-size="58.5">
<text x="1574.5" y="485.3" letter-spacing="-0.22">Light (T=100%)</text>
<text x="1574.5" y="556.8" letter-spacing="-0.29">Dark (T=0%)</text>
<text x="1574.5" y="629.4">ITO-Glass/0.01M<tspan dx="-4.9"> H</tspan><tspan font-size="38" dy="15.3" dx="1">2</tspan><tspan dy="-15.3" dx="1.2">SO</tspan><tspan font-size="38" dy="15.3" dx="-0.6">4</tspan></text>
</g>
</svg></body></html>
